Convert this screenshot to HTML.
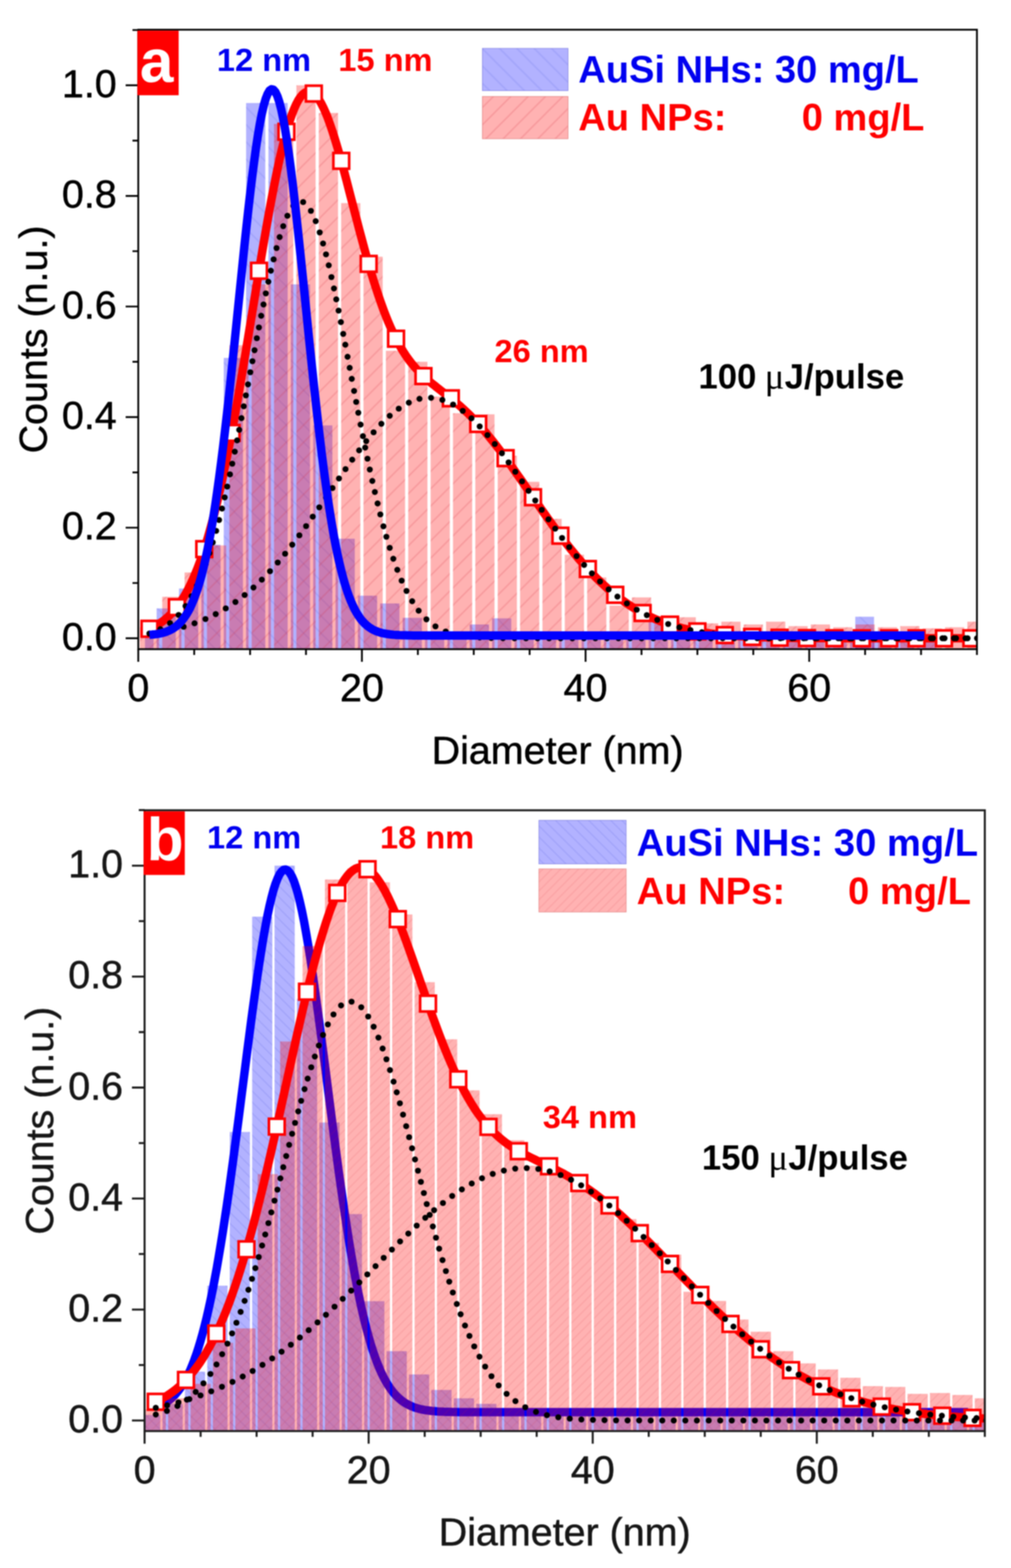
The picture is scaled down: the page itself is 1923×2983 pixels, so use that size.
<!DOCTYPE html>
<html lang="en"><head><meta charset="utf-8"><title>Size distributions</title>
<style>html,body{margin:0;padding:0;background:#fff}html::-webkit-scrollbar{display:none}svg{display:block;filter:blur(1.2px)}.rb rect{fill:#ff0000;fill-opacity:.3}.bb rect{fill:#0000ff;fill-opacity:.3}.bl{fill:none;stroke:#0000ff;stroke-width:16;stroke-linejoin:round;stroke-linecap:butt}.rl{fill:none;stroke:#ff0000;stroke-width:16;stroke-linejoin:round;stroke-linecap:butt}.mk{fill:#fff;stroke:#ff0000;stroke-width:5}</style></head><body>
<svg width="1923" height="2983" viewBox="0 0 1923 2983">
<defs><pattern id="hra" patternUnits="userSpaceOnUse" width="33" height="33"><path d="M-8.25 8.25L8.25 -8.25M0 33L33 0M24.75 41.25L41.25 24.75" stroke="#d02030" stroke-opacity="0.16" stroke-width="3" fill="none"/></pattern><pattern id="hba" patternUnits="userSpaceOnUse" width="33" height="33"><path d="M-8.25 24.75L8.25 41.25M0 0L33 33M24.75 -8.25L41.25 8.25" stroke="#2030d0" stroke-opacity="0.1" stroke-width="3" fill="none"/></pattern><pattern id="hrb" patternUnits="userSpaceOnUse" width="17" height="17"><path d="M-4.25 4.25L4.25 -4.25M0 17L17 0M12.75 21.25L21.25 12.75" stroke="#d02030" stroke-opacity="0.09" stroke-width="2.5" fill="none"/></pattern><pattern id="hbb" patternUnits="userSpaceOnUse" width="21" height="21"><path d="M-5.25 15.75L5.25 26.25M0 0L21 21M15.75 -5.25L26.25 5.25" stroke="#2030d0" stroke-opacity="0.1" stroke-width="2.5" fill="none"/></pattern></defs>
<rect width="1923" height="2983" fill="#fff"/>
<g id="panel-a">
<clipPath id="clipa"><rect x="263.0" y="56.5" width="1595.2" height="1178.5"/></clipPath>
<g clip-path="url(#clipa)">
<g class="bb">
<rect x="275.8" y="1209.0" width="16.2" height="26.0"/>
<rect x="297.9" y="1157.5" width="36.5" height="77.5"/>
<rect x="340.5" y="1119.6" width="36.5" height="115.4"/>
<rect x="383.0" y="1036.5" width="36.5" height="198.5"/>
<rect x="425.6" y="680.9" width="36.5" height="554.1"/>
<rect x="468.1" y="196.0" width="36.5" height="1039.0"/>
<rect x="510.6" y="196.0" width="36.5" height="1039.0"/>
<rect x="553.2" y="541.0" width="36.5" height="694.0"/>
<rect x="595.7" y="809.3" width="36.5" height="425.7"/>
<rect x="638.3" y="1024.9" width="36.5" height="210.1"/>
<rect x="680.8" y="1133.3" width="36.5" height="101.7"/>
<rect x="723.3" y="1148.0" width="36.5" height="87.0"/>
<rect x="765.9" y="1175.4" width="36.5" height="59.6"/>
<rect x="808.4" y="1203.8" width="36.5" height="31.2"/>
<rect x="851.0" y="1203.8" width="36.5" height="31.2"/>
<rect x="893.5" y="1188.0" width="36.5" height="47.0"/>
<rect x="936.0" y="1176.4" width="36.5" height="58.6"/>
<rect x="978.6" y="1205.9" width="36.5" height="29.1"/>
<rect x="1021.1" y="1205.9" width="36.5" height="29.1"/>
<rect x="1063.7" y="1205.9" width="36.5" height="29.1"/>
<rect x="1106.2" y="1205.9" width="36.5" height="29.1"/>
<rect x="1148.7" y="1205.9" width="36.5" height="29.1"/>
<rect x="1191.3" y="1205.9" width="36.5" height="29.1"/>
<rect x="1233.8" y="1182.7" width="36.5" height="52.3"/>
<rect x="1276.4" y="1205.9" width="36.5" height="29.1"/>
<rect x="1318.9" y="1205.9" width="36.5" height="29.1"/>
<rect x="1361.4" y="1205.9" width="36.5" height="29.1"/>
<rect x="1404.0" y="1205.9" width="36.5" height="29.1"/>
<rect x="1446.5" y="1205.9" width="36.5" height="29.1"/>
<rect x="1489.1" y="1203.8" width="36.5" height="31.2"/>
<rect x="1531.6" y="1203.8" width="36.5" height="31.2"/>
<rect x="1574.1" y="1203.8" width="36.5" height="31.2"/>
<rect x="1616.7" y="1205.9" width="36.5" height="29.1"/>
<rect x="1659.2" y="1203.8" width="36.5" height="31.2"/>
<rect x="1701.8" y="1203.8" width="36.5" height="31.2"/>
<rect x="1744.3" y="1209.0" width="36.5" height="26.0"/>
<rect x="1626.8" y="1173.3" width="35.7" height="61.7"/>
</g>
<g fill="url(#hba)">
<rect x="275.8" y="1209.0" width="16.2" height="26.0"/>
<rect x="297.9" y="1157.5" width="36.5" height="77.5"/>
<rect x="340.5" y="1119.6" width="36.5" height="115.4"/>
<rect x="383.0" y="1036.5" width="36.5" height="198.5"/>
<rect x="425.6" y="680.9" width="36.5" height="554.1"/>
<rect x="468.1" y="196.0" width="36.5" height="1039.0"/>
<rect x="510.6" y="196.0" width="36.5" height="1039.0"/>
<rect x="553.2" y="541.0" width="36.5" height="694.0"/>
<rect x="595.7" y="809.3" width="36.5" height="425.7"/>
<rect x="638.3" y="1024.9" width="36.5" height="210.1"/>
<rect x="680.8" y="1133.3" width="36.5" height="101.7"/>
<rect x="723.3" y="1148.0" width="36.5" height="87.0"/>
<rect x="765.9" y="1175.4" width="36.5" height="59.6"/>
<rect x="808.4" y="1203.8" width="36.5" height="31.2"/>
<rect x="851.0" y="1203.8" width="36.5" height="31.2"/>
<rect x="893.5" y="1188.0" width="36.5" height="47.0"/>
<rect x="936.0" y="1176.4" width="36.5" height="58.6"/>
<rect x="978.6" y="1205.9" width="36.5" height="29.1"/>
<rect x="1021.1" y="1205.9" width="36.5" height="29.1"/>
<rect x="1063.7" y="1205.9" width="36.5" height="29.1"/>
<rect x="1106.2" y="1205.9" width="36.5" height="29.1"/>
<rect x="1148.7" y="1205.9" width="36.5" height="29.1"/>
<rect x="1191.3" y="1205.9" width="36.5" height="29.1"/>
<rect x="1233.8" y="1182.7" width="36.5" height="52.3"/>
<rect x="1276.4" y="1205.9" width="36.5" height="29.1"/>
<rect x="1318.9" y="1205.9" width="36.5" height="29.1"/>
<rect x="1361.4" y="1205.9" width="36.5" height="29.1"/>
<rect x="1404.0" y="1205.9" width="36.5" height="29.1"/>
<rect x="1446.5" y="1205.9" width="36.5" height="29.1"/>
<rect x="1489.1" y="1203.8" width="36.5" height="31.2"/>
<rect x="1531.6" y="1203.8" width="36.5" height="31.2"/>
<rect x="1574.1" y="1203.8" width="36.5" height="31.2"/>
<rect x="1616.7" y="1205.9" width="36.5" height="29.1"/>
<rect x="1659.2" y="1203.8" width="36.5" height="31.2"/>
<rect x="1701.8" y="1203.8" width="36.5" height="31.2"/>
<rect x="1744.3" y="1209.0" width="36.5" height="26.0"/>
<rect x="1626.8" y="1173.3" width="35.7" height="61.7"/>
</g>
<g class="rb">
<rect x="266.0" y="1193.3" width="36.5" height="41.7"/>
<rect x="308.6" y="1135.4" width="36.5" height="99.6"/>
<rect x="351.1" y="1089.1" width="36.5" height="145.9"/>
<rect x="393.7" y="1037.6" width="36.5" height="197.4"/>
<rect x="436.2" y="656.7" width="36.5" height="578.3"/>
<rect x="478.7" y="541.0" width="36.5" height="694.0"/>
<rect x="521.3" y="235.9" width="36.5" height="999.1"/>
<rect x="563.8" y="162.3" width="36.5" height="1072.7"/>
<rect x="606.4" y="214.9" width="36.5" height="1020.1"/>
<rect x="648.9" y="386.4" width="36.5" height="848.6"/>
<rect x="691.4" y="488.4" width="36.5" height="746.6"/>
<rect x="734.0" y="667.3" width="36.5" height="567.7"/>
<rect x="776.5" y="688.3" width="36.5" height="546.7"/>
<rect x="819.1" y="754.6" width="36.5" height="480.4"/>
<rect x="861.6" y="786.1" width="36.5" height="448.9"/>
<rect x="904.1" y="788.2" width="36.5" height="446.8"/>
<rect x="946.7" y="867.1" width="36.5" height="367.9"/>
<rect x="989.2" y="916.6" width="36.5" height="318.4"/>
<rect x="1031.8" y="987.1" width="36.5" height="247.9"/>
<rect x="1074.3" y="1055.4" width="36.5" height="179.6"/>
<rect x="1116.8" y="1098.6" width="36.5" height="136.4"/>
<rect x="1159.4" y="1152.2" width="36.5" height="82.8"/>
<rect x="1201.9" y="1136.5" width="36.5" height="98.5"/>
<rect x="1244.5" y="1172.2" width="36.5" height="62.8"/>
<rect x="1287.0" y="1174.3" width="36.5" height="60.7"/>
<rect x="1329.5" y="1185.9" width="36.5" height="49.1"/>
<rect x="1372.1" y="1182.7" width="36.5" height="52.3"/>
<rect x="1414.6" y="1188.0" width="36.5" height="47.0"/>
<rect x="1457.2" y="1182.7" width="36.5" height="52.3"/>
<rect x="1499.7" y="1191.2" width="36.5" height="43.8"/>
<rect x="1542.2" y="1188.0" width="36.5" height="47.0"/>
<rect x="1584.8" y="1193.3" width="36.5" height="41.7"/>
<rect x="1627.3" y="1188.0" width="36.5" height="47.0"/>
<rect x="1669.9" y="1193.3" width="36.5" height="41.7"/>
<rect x="1712.4" y="1191.2" width="36.5" height="43.8"/>
<rect x="1754.9" y="1195.4" width="36.5" height="39.6"/>
<rect x="1797.5" y="1193.3" width="36.5" height="41.7"/>
<rect x="1840.0" y="1182.7" width="18.2" height="52.3"/>
</g>
<g fill="url(#hra)">
<rect x="266.0" y="1193.3" width="36.5" height="41.7"/>
<rect x="308.6" y="1135.4" width="36.5" height="99.6"/>
<rect x="351.1" y="1089.1" width="36.5" height="145.9"/>
<rect x="393.7" y="1037.6" width="36.5" height="197.4"/>
<rect x="436.2" y="656.7" width="36.5" height="578.3"/>
<rect x="478.7" y="541.0" width="36.5" height="694.0"/>
<rect x="521.3" y="235.9" width="36.5" height="999.1"/>
<rect x="563.8" y="162.3" width="36.5" height="1072.7"/>
<rect x="606.4" y="214.9" width="36.5" height="1020.1"/>
<rect x="648.9" y="386.4" width="36.5" height="848.6"/>
<rect x="691.4" y="488.4" width="36.5" height="746.6"/>
<rect x="734.0" y="667.3" width="36.5" height="567.7"/>
<rect x="776.5" y="688.3" width="36.5" height="546.7"/>
<rect x="819.1" y="754.6" width="36.5" height="480.4"/>
<rect x="861.6" y="786.1" width="36.5" height="448.9"/>
<rect x="904.1" y="788.2" width="36.5" height="446.8"/>
<rect x="946.7" y="867.1" width="36.5" height="367.9"/>
<rect x="989.2" y="916.6" width="36.5" height="318.4"/>
<rect x="1031.8" y="987.1" width="36.5" height="247.9"/>
<rect x="1074.3" y="1055.4" width="36.5" height="179.6"/>
<rect x="1116.8" y="1098.6" width="36.5" height="136.4"/>
<rect x="1159.4" y="1152.2" width="36.5" height="82.8"/>
<rect x="1201.9" y="1136.5" width="36.5" height="98.5"/>
<rect x="1244.5" y="1172.2" width="36.5" height="62.8"/>
<rect x="1287.0" y="1174.3" width="36.5" height="60.7"/>
<rect x="1329.5" y="1185.9" width="36.5" height="49.1"/>
<rect x="1372.1" y="1182.7" width="36.5" height="52.3"/>
<rect x="1414.6" y="1188.0" width="36.5" height="47.0"/>
<rect x="1457.2" y="1182.7" width="36.5" height="52.3"/>
<rect x="1499.7" y="1191.2" width="36.5" height="43.8"/>
<rect x="1542.2" y="1188.0" width="36.5" height="47.0"/>
<rect x="1584.8" y="1193.3" width="36.5" height="41.7"/>
<rect x="1627.3" y="1188.0" width="36.5" height="47.0"/>
<rect x="1669.9" y="1193.3" width="36.5" height="41.7"/>
<rect x="1712.4" y="1191.2" width="36.5" height="43.8"/>
<rect x="1754.9" y="1195.4" width="36.5" height="39.6"/>
<rect x="1797.5" y="1193.3" width="36.5" height="41.7"/>
<rect x="1840.0" y="1182.7" width="18.2" height="52.3"/>
</g>
<polyline class="rl" points="284.3,1196.2 288.3,1194.5 292.2,1192.5 296.2,1190.4 300.2,1188.1 304.2,1185.6 308.2,1182.8 312.2,1179.8 316.2,1176.5 320.2,1173.0 324.2,1169.1 328.1,1164.9 332.1,1160.3 336.1,1155.4 340.1,1150.1 344.1,1144.3 348.1,1138.1 352.1,1131.4 356.1,1124.3 360.0,1116.6 364.0,1108.4 368.0,1099.6 372.0,1090.2 376.0,1080.2 380.0,1069.6 384.0,1058.3 388.0,1046.4 391.9,1033.8 395.9,1020.5 399.9,1006.5 403.9,991.8 407.9,976.3 411.9,960.2 415.9,943.3 419.9,925.8 423.9,907.5 427.8,888.6 431.8,869.0 435.8,848.7 439.8,827.9 443.8,806.4 447.8,784.4 451.8,761.9 455.8,739.0 459.7,715.6 463.7,691.9 467.7,667.9 471.7,643.7 475.7,619.3 479.7,594.8 483.7,570.3 487.7,545.9 491.7,521.6 495.6,497.5 499.6,473.7 503.6,450.4 507.6,427.4 511.6,405.1 515.6,383.4 519.6,362.4 523.6,342.1 527.5,322.8 531.5,304.4 535.5,287.0 539.5,270.7 543.5,255.5 547.5,241.5 551.5,228.7 555.5,217.2 559.5,207.0 563.4,198.2 567.4,190.7 571.4,184.6 575.4,179.9 579.4,176.6 583.4,174.6 587.4,174.0 591.4,174.8 595.3,176.8 599.3,180.2 603.3,184.7 607.3,190.4 611.3,197.3 615.3,205.3 619.3,214.2 623.3,224.1 627.2,234.9 631.2,246.5 635.2,258.8 639.2,271.8 643.2,285.3 647.2,299.3 651.2,313.8 655.2,328.6 659.2,343.7 663.1,359.0 667.1,374.4 671.1,389.8 675.1,405.3 679.1,420.6 683.1,435.9 687.1,450.9 691.1,465.8 695.0,480.3 699.0,494.6 703.0,508.4 707.0,521.9 711.0,535.0 715.0,547.6 719.0,559.8 723.0,571.5 727.0,582.7 730.9,593.4 734.9,603.6 738.9,613.4 742.9,622.6 746.9,631.4 750.9,639.7 754.9,647.5 758.9,654.9 762.8,661.9 766.8,668.5 770.8,674.7 774.8,680.5 778.8,686.0 782.8,691.1 786.8,696.0 790.8,700.6 794.8,704.9 798.7,709.1 802.7,713.0 806.7,716.7 810.7,720.3 814.7,723.8 818.7,727.2 822.7,730.4 826.7,733.6 830.6,736.8 834.6,739.9 838.6,743.0 842.6,746.1 846.6,749.2 850.6,752.3 854.6,755.4 858.6,758.6 862.5,761.9 866.5,765.2 870.5,768.6 874.5,772.0 878.5,775.6 882.5,779.2 886.5,783.0 890.5,786.8 894.5,790.7 898.4,794.8 902.4,798.9 906.4,803.1 910.4,807.5 914.4,811.9 918.4,816.5 922.4,821.1 926.4,825.9 930.3,830.7 934.3,835.6 938.3,840.6 942.3,845.7 946.3,850.9 950.3,856.1 954.3,861.5 958.3,866.8 962.3,872.3 966.2,877.8 970.2,883.3 974.2,888.9 978.2,894.6 982.2,900.3 986.2,906.0 990.2,911.7 994.2,917.4 998.1,923.2 1002.1,929.0 1006.1,934.8 1010.1,940.6 1014.1,946.4 1018.1,952.1 1022.1,957.9 1026.1,963.6 1030.0,969.4 1034.0,975.0 1038.0,980.7 1042.0,986.3 1046.0,991.9 1050.0,997.5 1054.0,1003.0 1058.0,1008.4 1062.0,1013.8 1065.9,1019.1 1069.9,1024.4 1073.9,1029.6 1077.9,1034.8 1081.9,1039.9 1085.9,1044.9 1089.9,1049.8 1093.9,1054.7 1097.8,1059.5 1101.8,1064.2 1105.8,1068.8 1109.8,1073.4 1113.8,1077.8 1117.8,1082.2 1121.8,1086.5 1125.8,1090.7 1129.8,1094.8 1133.7,1098.9 1137.7,1102.8 1141.7,1106.7 1145.7,1110.4 1149.7,1114.1 1153.7,1117.7 1157.7,1121.2 1161.7,1124.6 1165.6,1128.0 1169.6,1131.2 1173.6,1134.4 1177.6,1137.4 1181.6,1140.4 1185.6,1143.3 1189.6,1146.1 1193.6,1148.9 1197.6,1151.5 1201.5,1154.1 1205.5,1156.6 1209.5,1159.0 1213.5,1161.3 1217.5,1163.6 1221.5,1165.7 1225.5,1167.8 1229.5,1169.9 1233.4,1171.8 1237.4,1173.7 1241.4,1175.6 1245.4,1177.3 1249.4,1179.0 1253.4,1180.6 1257.4,1182.2 1261.4,1183.7 1265.3,1185.2 1269.3,1186.6 1273.3,1187.9 1277.3,1189.2 1281.3,1190.4 1285.3,1191.6 1289.3,1192.8 1293.3,1193.8 1297.3,1194.9 1301.2,1195.9 1305.2,1196.8 1309.2,1197.7 1313.2,1198.6 1317.2,1199.4 1321.2,1200.2 1325.2,1201.0 1329.2,1201.7 1333.1,1202.4 1337.1,1203.0 1341.1,1203.7 1345.1,1204.3 1349.1,1204.8 1353.1,1205.4 1357.1,1205.9 1361.1,1206.4 1365.1,1206.8 1369.0,1207.2 1373.0,1207.7 1377.0,1208.1 1381.0,1208.4 1385.0,1208.8 1389.0,1209.1 1393.0,1209.4 1397.0,1209.7 1400.9,1210.0 1404.9,1210.3 1408.9,1210.5 1412.9,1210.8 1416.9,1211.0 1420.9,1211.2 1424.9,1211.4 1428.9,1211.6 1432.8,1211.8 1436.8,1211.9 1440.8,1212.1 1444.8,1212.2 1448.8,1212.4 1452.8,1212.5 1456.8,1212.6 1460.8,1212.7 1464.8,1212.8 1468.7,1212.9 1472.7,1213.0 1476.7,1213.1 1480.7,1213.2 1484.7,1213.3 1488.7,1213.3 1492.7,1213.4 1496.7,1213.5 1500.6,1213.5 1504.6,1213.6 1508.6,1213.6 1512.6,1213.7 1516.6,1213.7 1520.6,1213.8 1524.6,1213.8 1528.6,1213.9 1532.6,1213.9 1536.5,1213.9 1540.5,1213.9 1544.5,1214.0 1548.5,1214.0 1552.5,1214.0 1556.5,1214.0 1560.5,1214.1 1564.5,1214.1 1568.4,1214.1 1572.4,1214.1 1576.4,1214.1 1580.4,1214.1 1584.4,1214.2 1588.4,1214.2 1592.4,1214.2 1596.4,1214.2 1600.4,1214.2 1604.3,1214.2 1608.3,1214.2 1612.3,1214.2 1616.3,1214.2 1620.3,1214.2 1624.3,1214.2 1628.3,1214.2 1632.3,1214.2 1636.2,1214.3 1640.2,1214.3 1644.2,1214.3 1648.2,1214.3 1652.2,1214.3 1656.2,1214.3 1660.2,1214.3 1664.2,1214.3 1668.1,1214.3 1672.1,1214.3 1676.1,1214.3 1680.1,1214.3 1684.1,1214.3 1688.1,1214.3 1692.1,1214.3 1696.1,1214.3 1700.1,1214.3 1704.0,1214.3 1708.0,1214.3 1712.0,1214.3 1716.0,1214.3 1720.0,1214.3 1724.0,1214.3 1728.0,1214.3 1732.0,1214.3 1735.9,1214.3 1739.9,1214.3 1743.9,1214.3 1747.9,1214.3 1751.9,1214.3 1755.9,1214.3 1759.9,1214.3 1763.9,1214.3 1767.9,1214.3 1771.8,1214.3 1775.8,1214.3 1779.8,1214.3 1783.8,1214.3 1787.8,1214.3 1791.8,1214.3 1795.8,1214.3 1799.8,1214.3 1803.7,1214.3 1807.7,1214.3 1811.7,1214.3 1815.7,1214.3 1819.7,1214.3 1823.7,1214.3 1827.7,1214.3 1831.7,1214.3 1835.7,1214.3 1839.6,1214.3 1843.6,1214.3 1847.6,1214.3 1851.6,1214.3 1855.6,1214.3 1859.6,1214.3 1863.6,1214.3 1867.6,1214.3 1871.5,1214.3 1875.5,1214.3 1879.5,1214.3"/>
<rect class="mk" x="269.3" y="1181.2" width="30" height="30"/>
<rect class="mk" x="321.4" y="1140.1" width="30" height="30"/>
<rect class="mk" x="373.5" y="1029.7" width="30" height="30"/>
<rect class="mk" x="425.6" y="808.6" width="30" height="30"/>
<rect class="mk" x="477.7" y="500.1" width="30" height="30"/>
<rect class="mk" x="529.8" y="235.7" width="30" height="30"/>
<rect class="mk" x="581.9" y="163.0" width="30" height="30"/>
<rect class="mk" x="634.1" y="291.0" width="30" height="30"/>
<rect class="mk" x="686.2" y="487.0" width="30" height="30"/>
<rect class="mk" x="738.3" y="629.4" width="30" height="30"/>
<rect class="mk" x="790.4" y="700.5" width="30" height="30"/>
<rect class="mk" x="842.5" y="742.8" width="30" height="30"/>
<rect class="mk" x="894.6" y="791.6" width="30" height="30"/>
<rect class="mk" x="946.7" y="856.6" width="30" height="30"/>
<rect class="mk" x="998.8" y="931.0" width="30" height="30"/>
<rect class="mk" x="1050.9" y="1004.1" width="30" height="30"/>
<rect class="mk" x="1103.1" y="1067.5" width="30" height="30"/>
<rect class="mk" x="1155.2" y="1116.6" width="30" height="30"/>
<rect class="mk" x="1207.3" y="1151.2" width="30" height="30"/>
<rect class="mk" x="1259.4" y="1173.3" width="30" height="30"/>
<rect class="mk" x="1311.5" y="1186.2" width="30" height="30"/>
<rect class="mk" x="1363.6" y="1193.2" width="30" height="30"/>
<rect class="mk" x="1415.7" y="1196.7" width="30" height="30"/>
<rect class="mk" x="1467.8" y="1198.2" width="30" height="30"/>
<rect class="mk" x="1519.9" y="1198.9" width="30" height="30"/>
<rect class="mk" x="1572.1" y="1199.2" width="30" height="30"/>
<rect class="mk" x="1624.2" y="1199.3" width="30" height="30"/>
<rect class="mk" x="1676.3" y="1199.3" width="30" height="30"/>
<rect class="mk" x="1728.4" y="1199.3" width="30" height="30"/>
<rect class="mk" x="1780.5" y="1199.3" width="30" height="30"/>
<rect class="mk" x="1832.6" y="1199.3" width="30" height="30"/>
<g fill="#000"><circle cx="284.3" cy="1205.1" r="5.7"/><circle cx="305.0" cy="1197.0" r="5.7"/><circle cx="323.4" cy="1185.4" r="5.7"/><circle cx="339.7" cy="1169.9" r="5.7"/><circle cx="352.9" cy="1153.0" r="5.7"/><circle cx="364.4" cy="1134.1" r="5.7"/><circle cx="374.4" cy="1114.4" r="5.7"/><circle cx="383.2" cy="1094.1" r="5.7"/><circle cx="391.2" cy="1073.2" r="5.7"/><circle cx="398.3" cy="1052.3" r="5.7"/><circle cx="404.7" cy="1031.9" r="5.7"/><circle cx="411.1" cy="1009.9" r="5.7"/><circle cx="416.7" cy="989.3" r="5.7"/><circle cx="422.3" cy="967.5" r="5.7"/><circle cx="427.4" cy="946.2" r="5.7"/><circle cx="432.2" cy="925.6" r="5.7"/><circle cx="437.4" cy="902.4" r="5.7"/><circle cx="441.8" cy="882.1" r="5.7"/><circle cx="446.6" cy="859.2" r="5.7"/><circle cx="451.0" cy="837.8" r="5.7"/><circle cx="455.0" cy="817.8" r="5.7"/><circle cx="459.3" cy="795.5" r="5.7"/><circle cx="463.7" cy="772.9" r="5.7"/><circle cx="467.7" cy="752.1" r="5.7"/><circle cx="471.7" cy="731.2" r="5.7"/><circle cx="476.1" cy="708.1" r="5.7"/><circle cx="480.1" cy="687.1" r="5.7"/><circle cx="484.1" cy="666.2" r="5.7"/><circle cx="488.5" cy="643.4" r="5.7"/><circle cx="492.5" cy="622.9" r="5.7"/><circle cx="496.8" cy="600.8" r="5.7"/><circle cx="501.2" cy="579.2" r="5.7"/><circle cx="505.6" cy="558.1" r="5.7"/><circle cx="510.4" cy="536.0" r="5.7"/><circle cx="515.2" cy="515.0" r="5.7"/><circle cx="520.4" cy="493.4" r="5.7"/><circle cx="526.0" cy="471.9" r="5.7"/><circle cx="531.9" cy="451.0" r="5.7"/><circle cx="538.7" cy="430.3" r="5.7"/><circle cx="546.7" cy="410.5" r="5.7"/><circle cx="557.9" cy="391.5" r="5.7"/><circle cx="576.6" cy="384.4" r="5.7"/><circle cx="591.4" cy="401.1" r="5.7"/><circle cx="600.5" cy="420.8" r="5.7"/><circle cx="608.1" cy="442.1" r="5.7"/><circle cx="614.5" cy="463.2" r="5.7"/><circle cx="620.1" cy="483.9" r="5.7"/><circle cx="625.3" cy="504.8" r="5.7"/><circle cx="630.4" cy="527.1" r="5.7"/><circle cx="635.2" cy="548.8" r="5.7"/><circle cx="639.6" cy="569.5" r="5.7"/><circle cx="644.0" cy="590.9" r="5.7"/><circle cx="648.4" cy="612.8" r="5.7"/><circle cx="652.8" cy="635.2" r="5.7"/><circle cx="656.8" cy="655.8" r="5.7"/><circle cx="661.1" cy="678.8" r="5.7"/><circle cx="665.1" cy="699.7" r="5.7"/><circle cx="669.1" cy="720.7" r="5.7"/><circle cx="673.5" cy="743.8" r="5.7"/><circle cx="677.5" cy="764.6" r="5.7"/><circle cx="681.5" cy="785.3" r="5.7"/><circle cx="685.9" cy="807.7" r="5.7"/><circle cx="690.3" cy="829.8" r="5.7"/><circle cx="694.6" cy="851.5" r="5.7"/><circle cx="699.0" cy="872.6" r="5.7"/><circle cx="703.4" cy="893.2" r="5.7"/><circle cx="708.2" cy="915.0" r="5.7"/><circle cx="713.0" cy="936.0" r="5.7"/><circle cx="718.2" cy="957.8" r="5.7"/><circle cx="723.4" cy="978.6" r="5.7"/><circle cx="729.3" cy="1001.3" r="5.7"/><circle cx="734.9" cy="1021.1" r="5.7"/><circle cx="741.3" cy="1042.3" r="5.7"/><circle cx="748.1" cy="1063.0" r="5.7"/><circle cx="755.7" cy="1084.0" r="5.7"/><circle cx="764.0" cy="1104.6" r="5.7"/><circle cx="773.2" cy="1124.3" r="5.7"/><circle cx="784.0" cy="1143.7" r="5.7"/><circle cx="796.3" cy="1161.8" r="5.7"/><circle cx="811.1" cy="1178.2" r="5.7"/><circle cx="828.3" cy="1191.6" r="5.7"/><circle cx="847.8" cy="1201.4" r="5.7"/><circle cx="868.9" cy="1207.7" r="5.7"/><circle cx="890.5" cy="1211.1" r="5.7"/><circle cx="912.4" cy="1212.8" r="5.7"/><circle cx="934.3" cy="1213.7" r="5.7"/><circle cx="956.7" cy="1214.0" r="5.7"/><circle cx="978.6" cy="1214.2" r="5.7"/><circle cx="1000.5" cy="1214.3" r="5.7"/><circle cx="1022.5" cy="1214.3" r="5.7"/><circle cx="1044.4" cy="1214.3" r="5.7"/><circle cx="1066.3" cy="1214.3" r="5.7"/><circle cx="1088.7" cy="1214.3" r="5.7"/><circle cx="1110.6" cy="1214.3" r="5.7"/><circle cx="1132.5" cy="1214.3" r="5.7"/><circle cx="1154.5" cy="1214.3" r="5.7"/><circle cx="1176.4" cy="1214.3" r="5.7"/><circle cx="1198.3" cy="1214.3" r="5.7"/><circle cx="1220.3" cy="1214.3" r="5.7"/><circle cx="1242.6" cy="1214.3" r="5.7"/><circle cx="1264.6" cy="1214.3" r="5.7"/><circle cx="1286.5" cy="1214.3" r="5.7"/><circle cx="1308.4" cy="1214.3" r="5.7"/><circle cx="1330.4" cy="1214.3" r="5.7"/><circle cx="1352.3" cy="1214.3" r="5.7"/><circle cx="1374.6" cy="1214.3" r="5.7"/><circle cx="1396.6" cy="1214.3" r="5.7"/><circle cx="1418.5" cy="1214.3" r="5.7"/><circle cx="1440.4" cy="1214.3" r="5.7"/><circle cx="1462.4" cy="1214.3" r="5.7"/><circle cx="1484.3" cy="1214.3" r="5.7"/><circle cx="1506.6" cy="1214.3" r="5.7"/><circle cx="1528.6" cy="1214.3" r="5.7"/><circle cx="1550.5" cy="1214.3" r="5.7"/><circle cx="1572.4" cy="1214.3" r="5.7"/><circle cx="1594.4" cy="1214.3" r="5.7"/><circle cx="1616.3" cy="1214.3" r="5.7"/><circle cx="1638.6" cy="1214.3" r="5.7"/><circle cx="1660.6" cy="1214.3" r="5.7"/><circle cx="1682.5" cy="1214.3" r="5.7"/><circle cx="1704.4" cy="1214.3" r="5.7"/><circle cx="1726.4" cy="1214.3" r="5.7"/><circle cx="1748.3" cy="1214.3" r="5.7"/><circle cx="1770.6" cy="1214.3" r="5.7"/><circle cx="1792.6" cy="1214.3" r="5.7"/><circle cx="1814.5" cy="1214.3" r="5.7"/><circle cx="1836.4" cy="1214.3" r="5.7"/><circle cx="1858.4" cy="1214.3" r="5.7"/><circle cx="284.3" cy="1205.4" r="5.7"/><circle cx="306.2" cy="1202.1" r="5.7"/><circle cx="327.7" cy="1197.9" r="5.7"/><circle cx="349.3" cy="1192.4" r="5.7"/><circle cx="370.0" cy="1185.8" r="5.7"/><circle cx="390.8" cy="1177.6" r="5.7"/><circle cx="410.3" cy="1168.3" r="5.7"/><circle cx="429.4" cy="1157.4" r="5.7"/><circle cx="447.8" cy="1145.3" r="5.7"/><circle cx="465.3" cy="1132.0" r="5.7"/><circle cx="482.1" cy="1117.7" r="5.7"/><circle cx="498.0" cy="1102.7" r="5.7"/><circle cx="513.6" cy="1086.6" r="5.7"/><circle cx="528.3" cy="1070.1" r="5.7"/><circle cx="542.3" cy="1053.4" r="5.7"/><circle cx="555.9" cy="1036.3" r="5.7"/><circle cx="569.4" cy="1018.4" r="5.7"/><circle cx="582.2" cy="1000.9" r="5.7"/><circle cx="594.9" cy="982.9" r="5.7"/><circle cx="607.3" cy="965.1" r="5.7"/><circle cx="620.1" cy="946.5" r="5.7"/><circle cx="632.4" cy="928.4" r="5.7"/><circle cx="644.8" cy="910.3" r="5.7"/><circle cx="657.2" cy="892.5" r="5.7"/><circle cx="669.9" cy="874.5" r="5.7"/><circle cx="683.1" cy="856.7" r="5.7"/><circle cx="696.6" cy="839.2" r="5.7"/><circle cx="710.6" cy="822.4" r="5.7"/><circle cx="725.4" cy="806.3" r="5.7"/><circle cx="741.3" cy="791.0" r="5.7"/><circle cx="758.5" cy="777.4" r="5.7"/><circle cx="777.6" cy="766.0" r="5.7"/><circle cx="797.9" cy="758.8" r="5.7"/><circle cx="819.9" cy="756.8" r="5.7"/><circle cx="841.4" cy="760.7" r="5.7"/><circle cx="861.8" cy="769.6" r="5.7"/><circle cx="880.1" cy="781.6" r="5.7"/><circle cx="896.8" cy="795.7" r="5.7"/><circle cx="912.4" cy="811.2" r="5.7"/><circle cx="927.2" cy="827.7" r="5.7"/><circle cx="941.1" cy="844.7" r="5.7"/><circle cx="954.7" cy="862.3" r="5.7"/><circle cx="967.4" cy="879.6" r="5.7"/><circle cx="980.2" cy="897.5" r="5.7"/><circle cx="993.0" cy="915.8" r="5.7"/><circle cx="1005.3" cy="933.7" r="5.7"/><circle cx="1018.1" cy="952.1" r="5.7"/><circle cx="1030.4" cy="969.9" r="5.7"/><circle cx="1043.2" cy="988.0" r="5.7"/><circle cx="1056.0" cy="1005.7" r="5.7"/><circle cx="1069.1" cy="1023.4" r="5.7"/><circle cx="1082.7" cy="1040.9" r="5.7"/><circle cx="1096.7" cy="1058.0" r="5.7"/><circle cx="1111.0" cy="1074.7" r="5.7"/><circle cx="1125.8" cy="1090.7" r="5.7"/><circle cx="1141.3" cy="1106.3" r="5.7"/><circle cx="1157.7" cy="1121.2" r="5.7"/><circle cx="1174.4" cy="1135.0" r="5.7"/><circle cx="1192.4" cy="1148.0" r="5.7"/><circle cx="1211.1" cy="1159.9" r="5.7"/><circle cx="1230.3" cy="1170.3" r="5.7"/><circle cx="1250.2" cy="1179.3" r="5.7"/><circle cx="1270.9" cy="1187.1" r="5.7"/><circle cx="1292.1" cy="1193.5" r="5.7"/><circle cx="1313.2" cy="1198.6" r="5.7"/><circle cx="1335.1" cy="1202.7" r="5.7"/><circle cx="1356.7" cy="1205.8" r="5.7"/><circle cx="1378.6" cy="1208.2" r="5.7"/><circle cx="1400.5" cy="1210.0" r="5.7"/><circle cx="1422.5" cy="1211.3" r="5.7"/><circle cx="1444.4" cy="1212.2" r="5.7"/><circle cx="1466.4" cy="1212.9" r="5.7"/><circle cx="1488.3" cy="1213.3" r="5.7"/><circle cx="1510.6" cy="1213.7" r="5.7"/><circle cx="1532.6" cy="1213.9" r="5.7"/><circle cx="1554.5" cy="1214.0" r="5.7"/><circle cx="1576.4" cy="1214.1" r="5.7"/><circle cx="1598.4" cy="1214.2" r="5.7"/><circle cx="1620.3" cy="1214.2" r="5.7"/><circle cx="1642.6" cy="1214.3" r="5.7"/><circle cx="1664.6" cy="1214.3" r="5.7"/><circle cx="1686.5" cy="1214.3" r="5.7"/><circle cx="1708.4" cy="1214.3" r="5.7"/><circle cx="1730.4" cy="1214.3" r="5.7"/><circle cx="1752.3" cy="1214.3" r="5.7"/><circle cx="1774.6" cy="1214.3" r="5.7"/><circle cx="1796.6" cy="1214.3" r="5.7"/><circle cx="1818.5" cy="1214.3" r="5.7"/><circle cx="1840.4" cy="1214.3" r="5.7"/><circle cx="1862.4" cy="1214.3" r="5.7"/></g>
<polyline class="bl" points="284.3,1207.7 288.0,1207.4 291.6,1207.0 295.3,1206.6 299.0,1206.1 302.7,1205.4 306.4,1204.7 310.1,1203.7 313.8,1202.7 317.4,1201.4 321.1,1199.9 324.8,1198.1 328.5,1196.0 332.2,1193.6 335.9,1190.9 339.5,1187.7 343.2,1184.0 346.9,1179.7 350.6,1174.9 354.3,1169.4 358.0,1163.2 361.7,1156.2 365.3,1148.2 369.0,1139.4 372.7,1129.5 376.4,1118.5 380.1,1106.4 383.8,1093.0 387.5,1078.3 391.1,1062.3 394.8,1044.8 398.5,1025.8 402.2,1005.3 405.9,983.3 409.6,959.8 413.2,934.7 416.9,908.0 420.6,879.9 424.3,850.4 428.0,819.5 431.7,787.4 435.4,754.2 439.0,719.9 442.7,684.9 446.4,649.2 450.1,613.0 453.8,576.6 457.5,540.3 461.2,504.2 464.8,468.6 468.5,433.8 472.2,400.1 475.9,367.8 479.6,337.0 483.3,308.2 486.9,281.5 490.6,257.1 494.3,235.4 498.0,216.5 501.7,200.7 505.4,187.9 509.1,178.5 512.7,172.4 516.4,169.8 520.1,170.6 523.8,174.9 527.5,182.6 531.2,193.6 534.9,207.9 538.5,225.2 542.2,245.5 545.9,268.4 549.6,293.9 553.3,321.7 557.0,351.5 560.6,383.0 564.3,416.1 568.0,450.3 571.7,485.5 575.4,521.4 579.1,557.6 582.8,594.0 586.4,630.3 590.1,666.3 593.8,701.7 597.5,736.4 601.2,770.2 604.9,802.9 608.6,834.5 612.2,864.7 615.9,893.5 619.6,920.9 623.3,946.8 627.0,971.2 630.7,994.0 634.3,1015.3 638.0,1035.0 641.7,1053.3 645.4,1070.1 649.1,1085.5 652.8,1099.6 656.5,1112.4 660.1,1123.9 663.8,1134.4 667.5,1143.7 671.2,1152.1 674.9,1159.6 678.6,1166.3 682.3,1172.1 685.9,1177.3 689.6,1181.8 693.3,1185.8 697.0,1189.2 700.7,1192.2 704.4,1194.8 708.0,1197.1 711.7,1199.0 715.4,1200.6 719.1,1202.0 722.8,1203.2 726.5,1204.2 730.2,1205.0 733.8,1205.7 737.5,1206.3 741.2,1206.8 744.9,1207.2 748.6,1207.6 752.3,1207.9 756.0,1208.1 759.6,1208.3 763.3,1208.4 767.0,1208.5 770.7,1208.6 774.4,1208.7 778.1,1208.8 781.7,1208.8 785.4,1208.9 789.1,1208.9 792.8,1208.9 796.5,1209.0 800.2,1209.0 803.9,1209.0 807.5,1209.0 811.2,1209.0 814.9,1209.0 818.6,1209.0 822.3,1209.0 826.0,1209.0 829.7,1209.0 833.3,1209.0 837.0,1209.0 840.7,1209.0 844.4,1209.0 848.1,1209.0 851.8,1209.0 855.4,1209.0 859.1,1209.0 862.8,1209.0 866.5,1209.0 870.2,1209.0 873.9,1209.0 877.6,1209.0 881.2,1209.0 884.9,1209.0 888.6,1209.0 892.3,1209.0 896.0,1209.0 899.7,1209.0 903.4,1209.0 907.0,1209.0 910.7,1209.0 914.4,1209.0 918.1,1209.0 921.8,1209.0 925.5,1209.0 929.1,1209.0 932.8,1209.0 936.5,1209.0 940.2,1209.0 943.9,1209.0 947.6,1209.0 951.3,1209.0 954.9,1209.0 958.6,1209.0 962.3,1209.0 966.0,1209.0 969.7,1209.0 973.4,1209.0 977.1,1209.0 980.7,1209.0 984.4,1209.0 988.1,1209.0 991.8,1209.0 995.5,1209.0 999.2,1209.0 1002.9,1209.0 1006.5,1209.0 1010.2,1209.0 1013.9,1209.0 1017.6,1209.0 1021.3,1209.0 1025.0,1209.0 1028.6,1209.0 1032.3,1209.0 1036.0,1209.0 1039.7,1209.0 1043.4,1209.0 1047.1,1209.0 1050.8,1209.0 1054.4,1209.0 1058.1,1209.0 1061.8,1209.0 1065.5,1209.0 1069.2,1209.0 1072.9,1209.0 1076.6,1209.0 1080.2,1209.0 1083.9,1209.0 1087.6,1209.0 1091.3,1209.0 1095.0,1209.0 1098.7,1209.0 1102.3,1209.0 1106.0,1209.0 1109.7,1209.0 1113.4,1209.0 1117.1,1209.0 1120.8,1209.0 1124.5,1209.0 1128.1,1209.0 1131.8,1209.0 1135.5,1209.0 1139.2,1209.0 1142.9,1209.0 1146.6,1209.0 1150.3,1209.0 1153.9,1209.0 1157.6,1209.0 1161.3,1209.0 1165.0,1209.0 1168.7,1209.0 1172.4,1209.0 1176.0,1209.0 1179.7,1209.0 1183.4,1209.0 1187.1,1209.0 1190.8,1209.0 1194.5,1209.0 1198.2,1209.0 1201.8,1209.0 1205.5,1209.0 1209.2,1209.0 1212.9,1209.0 1216.6,1209.0 1220.3,1209.0 1224.0,1209.0 1227.6,1209.0 1231.3,1209.0 1235.0,1209.0 1238.7,1209.0 1242.4,1209.0 1246.1,1209.0 1249.7,1209.0 1253.4,1209.0 1257.1,1209.0 1260.8,1209.0 1264.5,1209.0 1268.2,1209.0 1271.9,1209.0 1275.5,1209.0 1279.2,1209.0 1282.9,1209.0 1286.6,1209.0 1290.3,1209.0 1294.0,1209.0 1297.7,1209.0 1301.3,1209.0 1305.0,1209.0 1308.7,1209.0 1312.4,1209.0 1316.1,1209.0 1319.8,1209.0 1323.4,1209.0 1327.1,1209.0 1330.8,1209.0 1334.5,1209.0 1338.2,1209.0 1341.9,1209.0 1345.6,1209.0 1349.2,1209.0 1352.9,1209.0 1356.6,1209.0 1360.3,1209.0 1364.0,1209.0 1367.7,1209.0 1371.4,1209.0 1375.0,1209.0 1378.7,1209.0 1382.4,1209.0 1386.1,1209.0 1389.8,1209.0 1393.5,1209.0 1397.1,1209.0 1400.8,1209.0 1404.5,1209.0 1408.2,1209.0 1411.9,1209.0 1415.6,1209.0 1419.3,1209.0 1422.9,1209.0 1426.6,1209.0 1430.3,1209.0 1434.0,1209.0 1437.7,1209.0 1441.4,1209.0 1445.1,1209.0 1448.7,1209.0 1452.4,1209.0 1456.1,1209.0 1459.8,1209.0 1463.5,1209.0 1467.2,1209.0 1470.8,1209.0 1474.5,1209.0 1478.2,1209.0 1481.9,1209.0 1485.6,1209.0 1489.3,1209.0 1493.0,1209.0 1496.6,1209.0 1500.3,1209.0 1504.0,1209.0 1507.7,1209.0 1511.4,1209.0 1515.1,1209.0 1518.8,1209.0 1522.4,1209.0 1526.1,1209.0 1529.8,1209.0 1533.5,1209.0 1537.2,1209.0 1540.9,1209.0 1544.5,1209.0 1548.2,1209.0 1551.9,1209.0 1555.6,1209.0 1559.3,1209.0 1563.0,1209.0 1566.7,1209.0 1570.3,1209.0 1574.0,1209.0 1577.7,1209.0 1581.4,1209.0 1585.1,1209.0 1588.8,1209.0 1592.5,1209.0 1596.1,1209.0 1599.8,1209.0 1603.5,1209.0 1607.2,1209.0 1610.9,1209.0 1614.6,1209.0 1618.2,1209.0 1621.9,1209.0 1625.6,1209.0 1629.3,1209.0 1633.0,1209.0 1636.7,1209.0 1640.4,1209.0 1644.0,1209.0 1647.7,1209.0 1651.4,1209.0 1655.1,1209.0 1658.8,1209.0 1662.5,1209.0 1666.2,1209.0 1669.8,1209.0 1673.5,1209.0 1677.2,1209.0 1680.9,1209.0 1684.6,1209.0 1688.3,1209.0 1692.0,1209.0 1695.6,1209.0 1699.3,1209.0 1703.0,1209.0 1706.7,1209.0 1710.4,1209.0 1714.1,1209.0 1717.7,1209.0 1721.4,1209.0 1725.1,1209.0 1728.8,1209.0 1732.5,1209.0 1736.2,1209.0 1739.9,1209.0 1743.5,1209.0 1747.2,1209.0 1750.9,1209.0 1754.6,1209.0 1758.3,1209.0"/>
</g>
<g stroke="#000" stroke-width="3.4" fill="none" stroke-linecap="butt">
<rect x="263.0" y="56.5" width="1595.2" height="1178.5"/>
<path d="M263.0 1235.0v24M369.4 1235.0v11M475.7 1235.0v11M582.0 1235.0v11M688.4 1235.0v24M794.8 1235.0v11M901.1 1235.0v11M1007.4 1235.0v11M1113.8 1235.0v24M1220.2 1235.0v11M1326.5 1235.0v11M1432.8 1235.0v11M1539.2 1235.0v24M1645.5 1235.0v11M1751.9 1235.0v11M1858.2 1235.0v11M263.0 1214.3h-24M263.0 1109.1h-11M263.0 1003.9h-24M263.0 898.7h-11M263.0 793.5h-24M263.0 688.3h-11M263.0 583.1h-24M263.0 477.9h-11M263.0 372.7h-24M263.0 267.5h-11M263.0 162.3h-24M263.0 57.1h-11"/>
</g>
<g font-family='"Liberation Sans", Arial, Helvetica, sans-serif' font-size="75" fill="#000" stroke="#000" stroke-width="0.9" stroke-linejoin="round">
<text x="263.0" y="1334.0" text-anchor="middle">0</text>
<text x="688.4" y="1334.0" text-anchor="middle">20</text>
<text x="1113.8" y="1334.0" text-anchor="middle">40</text>
<text x="1539.2" y="1334.0" text-anchor="middle">60</text>
<text x="222.0" y="1236.8" text-anchor="end">0.0</text>
<text x="222.0" y="1026.4" text-anchor="end">0.2</text>
<text x="222.0" y="816.0" text-anchor="end">0.4</text>
<text x="222.0" y="605.6" text-anchor="end">0.6</text>
<text x="222.0" y="395.2" text-anchor="end">0.8</text>
<text x="222.0" y="184.8" text-anchor="end">1.0</text>
<text x="1060.6" y="1452.5" text-anchor="middle">Diameter (nm)</text>
<text transform="translate(89.0 645.8) rotate(-90)" text-anchor="middle">Counts (n.u.)</text>
</g>
<rect x="261.3" y="58.2" width="78.5" height="122.99999999999999" fill="#ff0000"/>
<text x="298" y="155.5" text-anchor="middle" font-family='"Liberation Sans", Arial, Helvetica, sans-serif' font-weight="bold" font-size="115" fill="#fff">a</text>
<text x="412.5" y="135" font-family='"Liberation Sans", Arial, Helvetica, sans-serif' font-weight="bold" font-size="62" fill="#0000f0">12 nm</text>
<text x="643.5" y="135" font-family='"Liberation Sans", Arial, Helvetica, sans-serif' font-weight="bold" font-size="62" fill="#ff0000">15 nm</text>
<text x="940.5" y="689" font-family='"Liberation Sans", Arial, Helvetica, sans-serif' font-weight="bold" font-size="62" fill="#ff0000">26 nm</text>
<text y="738.5" font-family='"Liberation Sans", Arial, Helvetica, sans-serif' font-weight="bold" font-size="66" fill="#000"><tspan x="1328.5">100 </tspan><tspan x="1454.5" font-family='"Liberation Serif", "DejaVu Serif", serif' font-weight="normal" font-size="70">μ</tspan><tspan x="1492.5">J/pulse</tspan></text>
<rect x="917.5" y="92" width="163" height="80.5" fill="#0000ff" fill-opacity="0.3"/>
<rect x="917.5" y="92" width="163" height="80.5" fill="url(#hba)" stroke="#8080e0" stroke-width="1"/>
<rect x="917.5" y="183.5" width="163" height="80.5" fill="#ff0000" fill-opacity="0.3"/>
<rect x="917.5" y="183.5" width="163" height="80.5" fill="url(#hra)" stroke="#e08080" stroke-width="1"/>
<text x="1100" y="157" font-family='"Liberation Sans", Arial, Helvetica, sans-serif' font-weight="bold" font-size="72.4" fill="#0000f0">AuSi NHs: 30 mg/L</text>
<text y="248" font-family='"Liberation Sans", Arial, Helvetica, sans-serif' font-weight="bold" font-size="72.4" fill="#ff0000" xml:space="preserve"><tspan x="1100">Au NPs: </tspan><tspan x="1525">0 mg/L</tspan></text>
</g>
<g id="panel-b">
<clipPath id="clipb"><rect x="275.0" y="1541.5" width="1598.2" height="1181.0"/></clipPath>
<g clip-path="url(#clipb)">
<g class="bb">
<rect x="275.0" y="2691.8" width="29.8" height="30.7"/>
<rect x="309.1" y="2670.7" width="38.4" height="51.8"/>
<rect x="351.7" y="2609.5" width="38.4" height="113.0"/>
<rect x="394.3" y="2445.9" width="38.4" height="276.6"/>
<rect x="437.0" y="2153.5" width="38.4" height="569.0"/>
<rect x="479.6" y="1743.9" width="38.4" height="978.6"/>
<rect x="522.2" y="1646.8" width="38.4" height="1075.7"/>
<rect x="564.8" y="1900.1" width="38.4" height="822.4"/>
<rect x="607.4" y="2135.5" width="38.4" height="587.0"/>
<rect x="650.1" y="2309.7" width="38.4" height="412.8"/>
<rect x="692.7" y="2475.4" width="38.4" height="247.1"/>
<rect x="735.3" y="2570.5" width="38.4" height="152.0"/>
<rect x="777.9" y="2614.8" width="38.4" height="107.7"/>
<rect x="820.5" y="2644.3" width="38.4" height="78.2"/>
<rect x="863.2" y="2660.2" width="38.4" height="62.3"/>
<rect x="905.8" y="2670.7" width="38.4" height="51.8"/>
<rect x="948.4" y="2681.3" width="38.4" height="41.2"/>
<rect x="991.0" y="2681.3" width="38.4" height="41.2"/>
<rect x="1033.6" y="2686.6" width="38.4" height="35.9"/>
<rect x="1076.3" y="2686.6" width="38.4" height="35.9"/>
<rect x="1118.9" y="2691.8" width="38.4" height="30.7"/>
<rect x="1161.5" y="2691.8" width="38.4" height="30.7"/>
<rect x="1204.1" y="2691.8" width="38.4" height="30.7"/>
<rect x="1246.7" y="2681.3" width="38.4" height="41.2"/>
<rect x="1289.4" y="2691.8" width="38.4" height="30.7"/>
<rect x="1332.0" y="2691.8" width="38.4" height="30.7"/>
<rect x="1374.6" y="2691.8" width="38.4" height="30.7"/>
<rect x="1417.2" y="2691.8" width="38.4" height="30.7"/>
<rect x="1459.8" y="2691.8" width="38.4" height="30.7"/>
<rect x="1502.5" y="2691.8" width="38.4" height="30.7"/>
<rect x="1545.1" y="2691.8" width="38.4" height="30.7"/>
<rect x="1587.7" y="2691.8" width="38.4" height="30.7"/>
<rect x="1630.3" y="2689.7" width="38.4" height="32.8"/>
<rect x="1672.9" y="2689.7" width="38.4" height="32.8"/>
<rect x="1715.6" y="2689.7" width="38.4" height="32.8"/>
<rect x="1758.2" y="2691.8" width="38.4" height="30.7"/>
<rect x="1800.8" y="2691.8" width="38.4" height="30.7"/>
<rect x="1843.4" y="2691.8" width="29.8" height="30.7"/>
</g>
<g fill="url(#hbb)">
<rect x="275.0" y="2691.8" width="29.8" height="30.7"/>
<rect x="309.1" y="2670.7" width="38.4" height="51.8"/>
<rect x="351.7" y="2609.5" width="38.4" height="113.0"/>
<rect x="394.3" y="2445.9" width="38.4" height="276.6"/>
<rect x="437.0" y="2153.5" width="38.4" height="569.0"/>
<rect x="479.6" y="1743.9" width="38.4" height="978.6"/>
<rect x="522.2" y="1646.8" width="38.4" height="1075.7"/>
<rect x="564.8" y="1900.1" width="38.4" height="822.4"/>
<rect x="607.4" y="2135.5" width="38.4" height="587.0"/>
<rect x="650.1" y="2309.7" width="38.4" height="412.8"/>
<rect x="692.7" y="2475.4" width="38.4" height="247.1"/>
<rect x="735.3" y="2570.5" width="38.4" height="152.0"/>
<rect x="777.9" y="2614.8" width="38.4" height="107.7"/>
<rect x="820.5" y="2644.3" width="38.4" height="78.2"/>
<rect x="863.2" y="2660.2" width="38.4" height="62.3"/>
<rect x="905.8" y="2670.7" width="38.4" height="51.8"/>
<rect x="948.4" y="2681.3" width="38.4" height="41.2"/>
<rect x="991.0" y="2681.3" width="38.4" height="41.2"/>
<rect x="1033.6" y="2686.6" width="38.4" height="35.9"/>
<rect x="1076.3" y="2686.6" width="38.4" height="35.9"/>
<rect x="1118.9" y="2691.8" width="38.4" height="30.7"/>
<rect x="1161.5" y="2691.8" width="38.4" height="30.7"/>
<rect x="1204.1" y="2691.8" width="38.4" height="30.7"/>
<rect x="1246.7" y="2681.3" width="38.4" height="41.2"/>
<rect x="1289.4" y="2691.8" width="38.4" height="30.7"/>
<rect x="1332.0" y="2691.8" width="38.4" height="30.7"/>
<rect x="1374.6" y="2691.8" width="38.4" height="30.7"/>
<rect x="1417.2" y="2691.8" width="38.4" height="30.7"/>
<rect x="1459.8" y="2691.8" width="38.4" height="30.7"/>
<rect x="1502.5" y="2691.8" width="38.4" height="30.7"/>
<rect x="1545.1" y="2691.8" width="38.4" height="30.7"/>
<rect x="1587.7" y="2691.8" width="38.4" height="30.7"/>
<rect x="1630.3" y="2689.7" width="38.4" height="32.8"/>
<rect x="1672.9" y="2689.7" width="38.4" height="32.8"/>
<rect x="1715.6" y="2689.7" width="38.4" height="32.8"/>
<rect x="1758.2" y="2691.8" width="38.4" height="30.7"/>
<rect x="1800.8" y="2691.8" width="38.4" height="30.7"/>
<rect x="1843.4" y="2691.8" width="29.8" height="30.7"/>
</g>
<polyline class="bl" points="296.3,2677.6 300.2,2676.1 304.0,2674.5 307.9,2672.7 311.8,2670.6 315.6,2668.2 319.5,2665.5 323.3,2662.5 327.2,2659.1 331.1,2655.3 334.9,2651.1 338.8,2646.4 342.7,2641.2 346.5,2635.4 350.4,2629.1 354.2,2622.1 358.1,2614.4 362.0,2606.0 365.8,2596.8 369.7,2586.8 373.6,2575.9 377.4,2564.1 381.3,2551.4 385.1,2537.8 389.0,2523.1 392.9,2507.4 396.7,2490.7 400.6,2472.9 404.5,2454.1 408.3,2434.1 412.2,2413.1 416.0,2391.0 419.9,2367.9 423.8,2343.8 427.6,2318.7 431.5,2292.7 435.4,2265.9 439.2,2238.3 443.1,2210.0 446.9,2181.0 450.8,2151.6 454.7,2121.8 458.5,2091.7 462.4,2061.4 466.3,2031.2 470.1,2001.1 474.0,1971.3 477.8,1941.9 481.7,1913.1 485.6,1885.1 489.4,1858.1 493.3,1832.1 497.2,1807.3 501.0,1784.0 504.9,1762.1 508.7,1742.0 512.6,1723.7 516.5,1707.3 520.3,1693.0 524.2,1680.8 528.1,1670.8 531.9,1663.1 535.8,1657.8 539.6,1654.8 543.5,1654.3 547.4,1656.2 551.2,1660.4 555.1,1667.0 559.0,1676.0 562.8,1687.2 566.7,1700.6 570.5,1716.1 574.4,1733.6 578.3,1752.9 582.1,1774.0 586.0,1796.7 589.9,1820.8 593.7,1846.3 597.6,1872.9 601.4,1900.5 605.3,1928.9 609.2,1958.1 613.0,1987.7 616.9,2017.7 620.8,2047.9 624.6,2078.1 628.5,2108.3 632.3,2138.3 636.2,2167.9 640.1,2197.1 643.9,2225.7 647.8,2253.6 651.7,2280.8 655.5,2307.2 659.4,2332.7 663.2,2357.2 667.1,2380.8 671.0,2403.3 674.8,2424.8 678.7,2445.3 682.6,2464.6 686.4,2482.9 690.3,2500.1 694.1,2516.2 698.0,2531.3 701.9,2545.4 705.7,2558.6 709.6,2570.7 713.5,2582.0 717.3,2592.4 721.2,2601.9 725.0,2610.7 728.9,2618.7 732.8,2626.0 736.6,2632.7 740.5,2638.7 744.4,2644.1 748.2,2649.1 752.1,2653.5 755.9,2657.5 759.8,2661.0 763.7,2664.2 767.5,2667.0 771.4,2669.5 775.3,2671.7 779.1,2673.7 783.0,2675.4 786.8,2677.0 790.7,2678.3 794.6,2679.4 798.4,2680.5 802.3,2681.3 806.2,2682.1 810.0,2682.8 813.9,2683.3 817.7,2683.8 821.6,2684.3 825.5,2684.6 829.3,2684.9 833.2,2685.2 837.1,2685.4 840.9,2685.6 844.8,2685.8 848.6,2685.9 852.5,2686.0 856.4,2686.1 860.2,2686.2 864.1,2686.3 868.0,2686.3 871.8,2686.4 875.7,2686.4 879.5,2686.4 883.4,2686.5 887.3,2686.5 891.1,2686.5 895.0,2686.5 898.9,2686.5 902.7,2686.5 906.6,2686.5 910.4,2686.5 914.3,2686.5 918.2,2686.5 922.0,2686.6 925.9,2686.6 929.7,2686.6 933.6,2686.6 937.5,2686.6 941.3,2686.6 945.2,2686.6 949.1,2686.6 952.9,2686.6 956.8,2686.6 960.6,2686.6 964.5,2686.6 968.4,2686.6 972.2,2686.6 976.1,2686.6 980.0,2686.6 983.8,2686.6 987.7,2686.6 991.5,2686.6 995.4,2686.6 999.3,2686.6 1003.1,2686.6 1007.0,2686.6 1010.9,2686.6 1014.7,2686.6 1018.6,2686.6 1022.4,2686.6 1026.3,2686.6 1030.2,2686.6 1034.0,2686.6 1037.9,2686.6 1041.8,2686.6 1045.6,2686.6 1049.5,2686.6 1053.3,2686.6 1057.2,2686.6 1061.1,2686.6 1064.9,2686.6 1068.8,2686.6 1072.7,2686.6 1076.5,2686.6 1080.4,2686.6 1084.2,2686.6 1088.1,2686.6 1092.0,2686.6 1095.8,2686.6 1099.7,2686.6 1103.6,2686.6 1107.4,2686.6 1111.3,2686.6 1115.1,2686.6 1119.0,2686.6 1122.9,2686.6 1126.7,2686.6 1130.6,2686.6 1134.5,2686.6 1138.3,2686.6 1142.2,2686.6 1146.0,2686.6 1149.9,2686.6 1153.8,2686.6 1157.6,2686.6 1161.5,2686.6 1165.4,2686.6 1169.2,2686.6 1173.1,2686.6 1176.9,2686.6 1180.8,2686.6 1184.7,2686.6 1188.5,2686.6 1192.4,2686.6 1196.3,2686.6 1200.1,2686.6 1204.0,2686.6 1207.8,2686.6 1211.7,2686.6 1215.6,2686.6 1219.4,2686.6 1223.3,2686.6 1227.2,2686.6 1231.0,2686.6 1234.9,2686.6 1238.7,2686.6 1242.6,2686.6 1246.5,2686.6 1250.3,2686.6 1254.2,2686.6 1258.1,2686.6 1261.9,2686.6 1265.8,2686.6 1269.6,2686.6 1273.5,2686.6 1277.4,2686.6 1281.2,2686.6 1285.1,2686.6 1289.0,2686.6 1292.8,2686.6 1296.7,2686.6 1300.5,2686.6 1304.4,2686.6 1308.3,2686.6 1312.1,2686.6 1316.0,2686.6 1319.9,2686.6 1323.7,2686.6 1327.6,2686.6 1331.4,2686.6 1335.3,2686.6 1339.2,2686.6 1343.0,2686.6 1346.9,2686.6 1350.8,2686.6 1354.6,2686.6 1358.5,2686.6 1362.3,2686.6 1366.2,2686.6 1370.1,2686.6 1373.9,2686.6 1377.8,2686.6 1381.7,2686.6 1385.5,2686.6 1389.4,2686.6 1393.2,2686.6 1397.1,2686.6 1401.0,2686.6 1404.8,2686.6 1408.7,2686.6 1412.6,2686.6 1416.4,2686.6 1420.3,2686.6 1424.1,2686.6 1428.0,2686.6 1431.9,2686.6 1435.7,2686.6 1439.6,2686.6 1443.5,2686.6 1447.3,2686.6 1451.2,2686.6 1455.0,2686.6 1458.9,2686.6 1462.8,2686.6 1466.6,2686.6 1470.5,2686.6 1474.4,2686.6 1478.2,2686.6 1482.1,2686.6 1485.9,2686.6 1489.8,2686.6 1493.7,2686.6 1497.5,2686.6 1501.4,2686.6 1505.3,2686.6 1509.1,2686.6 1513.0,2686.6 1516.8,2686.6 1520.7,2686.6 1524.6,2686.6 1528.4,2686.6 1532.3,2686.6 1536.2,2686.6 1540.0,2686.6 1543.9,2686.6 1547.7,2686.6 1551.6,2686.6 1555.5,2686.6 1559.3,2686.6 1563.2,2686.6 1567.1,2686.6 1570.9,2686.6 1574.8,2686.6 1578.6,2686.6 1582.5,2686.6 1586.4,2686.6 1590.2,2686.6 1594.1,2686.6 1598.0,2686.6 1601.8,2686.6 1605.7,2686.6 1609.5,2686.6 1613.4,2686.6 1617.3,2686.6 1621.1,2686.6 1625.0,2686.6 1628.9,2686.6 1632.7,2686.6 1636.6,2686.6 1640.4,2686.6 1644.3,2686.6 1648.2,2686.6 1652.0,2686.6 1655.9,2686.6 1659.8,2686.6 1663.6,2686.6 1667.5,2686.6 1671.3,2686.6 1675.2,2686.6 1679.1,2686.6 1682.9,2686.6 1686.8,2686.6 1690.6,2686.6 1694.5,2686.6 1698.4,2686.6 1702.2,2686.6 1706.1,2686.6 1710.0,2686.6 1713.8,2686.6 1717.7,2686.6 1721.5,2686.6 1725.4,2686.6 1729.3,2686.6 1733.1,2686.6 1737.0,2686.6 1740.9,2686.6 1744.7,2686.6 1748.6,2686.6 1752.4,2686.6 1756.3,2686.6 1760.2,2686.6 1764.0,2686.6 1767.9,2686.6 1771.8,2686.6 1775.6,2686.6 1779.5,2686.6 1783.3,2686.6 1787.2,2686.6 1791.1,2686.6 1794.9,2686.6 1798.8,2686.6 1802.7,2686.6 1806.5,2686.6 1810.4,2686.6 1814.2,2686.6 1818.1,2686.6 1822.0,2686.6 1825.8,2686.6 1829.7,2686.6 1833.6,2686.6 1837.4,2686.6 1841.3,2686.6"/>
<g class="rb">
<rect x="277.1" y="2681.3" width="38.4" height="41.2"/>
<rect x="319.8" y="2660.2" width="38.4" height="62.3"/>
<rect x="362.4" y="2632.7" width="38.4" height="89.8"/>
<rect x="405.0" y="2554.6" width="38.4" height="167.9"/>
<rect x="447.6" y="2527.2" width="38.4" height="195.3"/>
<rect x="490.2" y="2233.7" width="38.4" height="488.8"/>
<rect x="532.9" y="1981.4" width="38.4" height="741.1"/>
<rect x="575.5" y="1799.9" width="38.4" height="922.6"/>
<rect x="618.1" y="1673.2" width="38.4" height="1049.3"/>
<rect x="660.7" y="1652.1" width="38.4" height="1070.4"/>
<rect x="703.3" y="1678.5" width="38.4" height="1044.0"/>
<rect x="746.0" y="1739.7" width="38.4" height="982.8"/>
<rect x="788.6" y="1868.5" width="38.4" height="854.0"/>
<rect x="831.2" y="1977.2" width="38.4" height="745.3"/>
<rect x="873.8" y="2074.3" width="38.4" height="648.2"/>
<rect x="916.4" y="2119.7" width="38.4" height="602.8"/>
<rect x="959.1" y="2169.3" width="38.4" height="553.2"/>
<rect x="1001.7" y="2217.9" width="38.4" height="504.6"/>
<rect x="1044.3" y="2235.8" width="38.4" height="486.7"/>
<rect x="1086.9" y="2262.2" width="38.4" height="460.3"/>
<rect x="1129.5" y="2286.5" width="38.4" height="436.0"/>
<rect x="1172.2" y="2319.2" width="38.4" height="403.3"/>
<rect x="1214.8" y="2364.6" width="38.4" height="357.9"/>
<rect x="1257.4" y="2386.8" width="38.4" height="335.7"/>
<rect x="1300.0" y="2457.5" width="38.4" height="265.0"/>
<rect x="1342.6" y="2474.9" width="38.4" height="247.6"/>
<rect x="1385.3" y="2510.3" width="38.4" height="212.2"/>
<rect x="1427.9" y="2533.5" width="38.4" height="189.0"/>
<rect x="1470.5" y="2570.5" width="38.4" height="152.0"/>
<rect x="1513.1" y="2593.7" width="38.4" height="128.8"/>
<rect x="1555.7" y="2605.3" width="38.4" height="117.2"/>
<rect x="1598.4" y="2621.1" width="38.4" height="101.4"/>
<rect x="1641.0" y="2637.0" width="38.4" height="85.5"/>
<rect x="1683.6" y="2638.5" width="38.4" height="84.0"/>
<rect x="1726.2" y="2651.7" width="38.4" height="70.8"/>
<rect x="1768.8" y="2650.1" width="38.4" height="72.4"/>
<rect x="1811.5" y="2653.8" width="38.4" height="68.7"/>
<rect x="1854.1" y="2660.2" width="19.2" height="62.3"/>
</g>
<g fill="url(#hrb)">
<rect x="277.1" y="2681.3" width="38.4" height="41.2"/>
<rect x="319.8" y="2660.2" width="38.4" height="62.3"/>
<rect x="362.4" y="2632.7" width="38.4" height="89.8"/>
<rect x="405.0" y="2554.6" width="38.4" height="167.9"/>
<rect x="447.6" y="2527.2" width="38.4" height="195.3"/>
<rect x="490.2" y="2233.7" width="38.4" height="488.8"/>
<rect x="532.9" y="1981.4" width="38.4" height="741.1"/>
<rect x="575.5" y="1799.9" width="38.4" height="922.6"/>
<rect x="618.1" y="1673.2" width="38.4" height="1049.3"/>
<rect x="660.7" y="1652.1" width="38.4" height="1070.4"/>
<rect x="703.3" y="1678.5" width="38.4" height="1044.0"/>
<rect x="746.0" y="1739.7" width="38.4" height="982.8"/>
<rect x="788.6" y="1868.5" width="38.4" height="854.0"/>
<rect x="831.2" y="1977.2" width="38.4" height="745.3"/>
<rect x="873.8" y="2074.3" width="38.4" height="648.2"/>
<rect x="916.4" y="2119.7" width="38.4" height="602.8"/>
<rect x="959.1" y="2169.3" width="38.4" height="553.2"/>
<rect x="1001.7" y="2217.9" width="38.4" height="504.6"/>
<rect x="1044.3" y="2235.8" width="38.4" height="486.7"/>
<rect x="1086.9" y="2262.2" width="38.4" height="460.3"/>
<rect x="1129.5" y="2286.5" width="38.4" height="436.0"/>
<rect x="1172.2" y="2319.2" width="38.4" height="403.3"/>
<rect x="1214.8" y="2364.6" width="38.4" height="357.9"/>
<rect x="1257.4" y="2386.8" width="38.4" height="335.7"/>
<rect x="1300.0" y="2457.5" width="38.4" height="265.0"/>
<rect x="1342.6" y="2474.9" width="38.4" height="247.6"/>
<rect x="1385.3" y="2510.3" width="38.4" height="212.2"/>
<rect x="1427.9" y="2533.5" width="38.4" height="189.0"/>
<rect x="1470.5" y="2570.5" width="38.4" height="152.0"/>
<rect x="1513.1" y="2593.7" width="38.4" height="128.8"/>
<rect x="1555.7" y="2605.3" width="38.4" height="117.2"/>
<rect x="1598.4" y="2621.1" width="38.4" height="101.4"/>
<rect x="1641.0" y="2637.0" width="38.4" height="85.5"/>
<rect x="1683.6" y="2638.5" width="38.4" height="84.0"/>
<rect x="1726.2" y="2651.7" width="38.4" height="70.8"/>
<rect x="1768.8" y="2650.1" width="38.4" height="72.4"/>
<rect x="1811.5" y="2653.8" width="38.4" height="68.7"/>
<rect x="1854.1" y="2660.2" width="19.2" height="62.3"/>
</g>
<polyline class="rl" points="296.3,2666.8 300.3,2664.9 304.3,2662.9 308.3,2660.7 312.3,2658.4 316.3,2656.0 320.3,2653.5 324.3,2650.8 328.3,2647.9 332.3,2644.9 336.3,2641.7 340.3,2638.3 344.3,2634.7 348.3,2630.9 352.2,2626.9 356.2,2622.7 360.2,2618.2 364.2,2613.6 368.2,2608.6 372.2,2603.4 376.2,2598.0 380.2,2592.3 384.2,2586.2 388.2,2579.9 392.2,2573.3 396.2,2566.3 400.2,2559.1 404.2,2551.5 408.2,2543.5 412.2,2535.2 416.2,2526.6 420.2,2517.6 424.2,2508.2 428.2,2498.4 432.2,2488.3 436.2,2477.8 440.2,2466.8 444.1,2455.5 448.1,2443.8 452.1,2431.7 456.1,2419.3 460.1,2406.4 464.1,2393.1 468.1,2379.5 472.1,2365.5 476.1,2351.1 480.1,2336.3 484.1,2321.2 488.1,2305.8 492.1,2290.0 496.1,2273.9 500.1,2257.6 504.1,2240.9 508.1,2224.0 512.1,2206.8 516.1,2189.4 520.1,2171.8 524.1,2154.1 528.1,2136.2 532.1,2118.1 536.0,2100.0 540.0,2081.8 544.0,2063.6 548.0,2045.4 552.0,2027.2 556.0,2009.1 560.0,1991.0 564.0,1973.1 568.0,1955.4 572.0,1937.8 576.0,1920.5 580.0,1903.5 584.0,1886.7 588.0,1870.3 592.0,1854.3 596.0,1838.7 600.0,1823.5 604.0,1808.8 608.0,1794.6 612.0,1780.9 616.0,1767.8 620.0,1755.2 624.0,1743.3 627.9,1732.0 631.9,1721.4 635.9,1711.5 639.9,1702.2 643.9,1693.7 647.9,1685.9 651.9,1678.9 655.9,1672.6 659.9,1667.1 663.9,1662.3 667.9,1658.4 671.9,1655.2 675.9,1652.7 679.9,1651.1 683.9,1650.2 687.9,1650.1 691.9,1650.7 695.9,1652.0 699.9,1654.1 703.9,1656.9 707.9,1660.3 711.9,1664.5 715.9,1669.2 719.8,1674.6 723.8,1680.6 727.8,1687.2 731.8,1694.3 735.8,1701.9 739.8,1710.0 743.8,1718.6 747.8,1727.5 751.8,1736.9 755.8,1746.6 759.8,1756.7 763.8,1767.0 767.8,1777.6 771.8,1788.5 775.8,1799.5 779.8,1810.7 783.8,1822.0 787.8,1833.4 791.8,1844.9 795.8,1856.4 799.8,1868.0 803.8,1879.5 807.8,1891.0 811.7,1902.5 815.7,1913.8 819.7,1925.0 823.7,1936.1 827.7,1947.1 831.7,1957.9 835.7,1968.5 839.7,1978.9 843.7,1989.1 847.7,1999.0 851.7,2008.7 855.7,2018.2 859.7,2027.4 863.7,2036.3 867.7,2045.0 871.7,2053.3 875.7,2061.5 879.7,2069.3 883.7,2076.8 887.7,2084.1 891.7,2091.1 895.7,2097.8 899.6,2104.2 903.6,2110.4 907.6,2116.3 911.6,2121.9 915.6,2127.3 919.6,2132.4 923.6,2137.3 927.6,2142.0 931.6,2146.4 935.6,2150.7 939.6,2154.7 943.6,2158.5 947.6,2162.2 951.6,2165.6 955.6,2168.9 959.6,2172.1 963.6,2175.1 967.6,2177.9 971.6,2180.7 975.6,2183.3 979.6,2185.8 983.6,2188.2 987.6,2190.5 991.5,2192.8 995.5,2194.9 999.5,2197.0 1003.5,2199.1 1007.5,2201.1 1011.5,2203.1 1015.5,2205.0 1019.5,2207.0 1023.5,2208.9 1027.5,2210.8 1031.5,2212.7 1035.5,2214.6 1039.5,2216.5 1043.5,2218.4 1047.5,2220.4 1051.5,2222.4 1055.5,2224.4 1059.5,2226.4 1063.5,2228.5 1067.5,2230.6 1071.5,2232.7 1075.5,2234.9 1079.5,2237.2 1083.4,2239.5 1087.4,2241.8 1091.4,2244.2 1095.4,2246.6 1099.4,2249.1 1103.4,2251.7 1107.4,2254.3 1111.4,2257.0 1115.4,2259.7 1119.4,2262.5 1123.4,2265.3 1127.4,2268.2 1131.4,2271.1 1135.4,2274.1 1139.4,2277.2 1143.4,2280.3 1147.4,2283.5 1151.4,2286.7 1155.4,2290.0 1159.4,2293.3 1163.4,2296.7 1167.4,2300.1 1171.4,2303.6 1175.3,2307.1 1179.3,2310.6 1183.3,2314.2 1187.3,2317.9 1191.3,2321.6 1195.3,2325.3 1199.3,2329.1 1203.3,2332.9 1207.3,2336.7 1211.3,2340.5 1215.3,2344.4 1219.3,2348.4 1223.3,2352.3 1227.3,2356.3 1231.3,2360.3 1235.3,2364.3 1239.3,2368.3 1243.3,2372.4 1247.3,2376.5 1251.3,2380.6 1255.3,2384.7 1259.3,2388.8 1263.3,2392.9 1267.2,2397.0 1271.2,2401.1 1275.2,2405.3 1279.2,2409.4 1283.2,2413.6 1287.2,2417.7 1291.2,2421.8 1295.2,2426.0 1299.2,2430.1 1303.2,2434.2 1307.2,2438.3 1311.2,2442.4 1315.2,2446.5 1319.2,2450.6 1323.2,2454.6 1327.2,2458.7 1331.2,2462.7 1335.2,2466.7 1339.2,2470.7 1343.2,2474.6 1347.2,2478.6 1351.2,2482.5 1355.2,2486.4 1359.1,2490.3 1363.1,2494.1 1367.1,2497.9 1371.1,2501.7 1375.1,2505.4 1379.1,2509.2 1383.1,2512.8 1387.1,2516.5 1391.1,2520.1 1395.1,2523.7 1399.1,2527.3 1403.1,2530.8 1407.1,2534.3 1411.1,2537.7 1415.1,2541.1 1419.1,2544.5 1423.1,2547.8 1427.1,2551.1 1431.1,2554.3 1435.1,2557.5 1439.1,2560.7 1443.1,2563.8 1447.0,2566.9 1451.0,2569.9 1455.0,2572.9 1459.0,2575.9 1463.0,2578.8 1467.0,2581.7 1471.0,2584.5 1475.0,2587.3 1479.0,2590.0 1483.0,2592.7 1487.0,2595.4 1491.0,2598.0 1495.0,2600.6 1499.0,2603.1 1503.0,2605.6 1507.0,2608.0 1511.0,2610.4 1515.0,2612.8 1519.0,2615.1 1523.0,2617.4 1527.0,2619.6 1531.0,2621.8 1535.0,2623.9 1538.9,2626.0 1542.9,2628.1 1546.9,2630.1 1550.9,2632.1 1554.9,2634.0 1558.9,2635.9 1562.9,2637.8 1566.9,2639.6 1570.9,2641.4 1574.9,2643.1 1578.9,2644.8 1582.9,2646.5 1586.9,2648.1 1590.9,2649.7 1594.9,2651.3 1598.9,2652.8 1602.9,2654.3 1606.9,2655.7 1610.9,2657.1 1614.9,2658.5 1618.9,2659.9 1622.9,2661.2 1626.9,2662.4 1630.8,2663.7 1634.8,2664.9 1638.8,2666.1 1642.8,2667.3 1646.8,2668.4 1650.8,2669.5 1654.8,2670.6 1658.8,2671.6 1662.8,2672.6 1666.8,2673.6 1670.8,2674.5 1674.8,2675.5 1678.8,2676.4 1682.8,2677.3 1686.8,2678.1 1690.8,2678.9 1694.8,2679.8 1698.8,2680.5 1702.8,2681.3 1706.8,2682.0 1710.8,2682.8 1714.8,2683.4 1718.8,2684.1 1722.7,2684.8 1726.7,2685.4 1730.7,2686.0 1734.7,2686.6 1738.7,2687.2 1742.7,2687.8 1746.7,2688.3 1750.7,2688.8 1754.7,2689.3 1758.7,2689.8 1762.7,2690.3 1766.7,2690.7 1770.7,2691.2 1774.7,2691.6 1778.7,2692.0 1782.7,2692.4 1786.7,2692.8 1790.7,2693.2 1794.7,2693.6 1798.7,2693.9 1802.7,2694.2 1806.7,2694.6 1810.7,2694.9 1814.6,2695.2 1818.6,2695.5 1822.6,2695.8 1826.6,2696.0 1830.6,2696.3 1834.6,2696.5 1838.6,2696.8 1842.6,2697.0 1846.6,2697.2 1850.6,2697.5 1854.6,2697.7 1858.6,2697.9 1862.6,2698.1 1866.6,2698.2 1870.6,2698.4 1874.6,2698.6 1878.6,2698.8 1882.6,2698.9 1886.6,2699.1 1890.6,2699.2 1894.6,2699.4"/>
<rect class="mk" x="281.3" y="2651.8" width="30" height="30"/>
<rect class="mk" x="338.8" y="2610.2" width="30" height="30"/>
<rect class="mk" x="396.4" y="2521.9" width="30" height="30"/>
<rect class="mk" x="453.9" y="2361.7" width="30" height="30"/>
<rect class="mk" x="511.5" y="2128.3" width="30" height="30"/>
<rect class="mk" x="569.0" y="1871.7" width="30" height="30"/>
<rect class="mk" x="626.5" y="1683.7" width="30" height="30"/>
<rect class="mk" x="684.1" y="1638.6" width="30" height="30"/>
<rect class="mk" x="741.6" y="1733.6" width="30" height="30"/>
<rect class="mk" x="799.1" y="1894.3" width="30" height="30"/>
<rect class="mk" x="856.7" y="2038.3" width="30" height="30"/>
<rect class="mk" x="914.2" y="2128.8" width="30" height="30"/>
<rect class="mk" x="971.8" y="2175.1" width="30" height="30"/>
<rect class="mk" x="1029.3" y="2203.8" width="30" height="30"/>
<rect class="mk" x="1086.8" y="2235.7" width="30" height="30"/>
<rect class="mk" x="1144.4" y="2278.3" width="30" height="30"/>
<rect class="mk" x="1201.9" y="2331.0" width="30" height="30"/>
<rect class="mk" x="1259.4" y="2389.5" width="30" height="30"/>
<rect class="mk" x="1317.0" y="2448.5" width="30" height="30"/>
<rect class="mk" x="1374.5" y="2503.7" width="30" height="30"/>
<rect class="mk" x="1432.0" y="2551.9" width="30" height="30"/>
<rect class="mk" x="1489.6" y="2591.6" width="30" height="30"/>
<rect class="mk" x="1547.1" y="2622.4" width="30" height="30"/>
<rect class="mk" x="1604.7" y="2645.1" width="30" height="30"/>
<rect class="mk" x="1662.2" y="2661.0" width="30" height="30"/>
<rect class="mk" x="1719.7" y="2671.6" width="30" height="30"/>
<rect class="mk" x="1777.3" y="2678.3" width="30" height="30"/>
<rect class="mk" x="1834.8" y="2682.4" width="30" height="30"/>
<g fill="#000"><circle cx="296.3" cy="2691.0" r="5.7"/><circle cx="317.5" cy="2684.2" r="5.7"/><circle cx="337.5" cy="2674.7" r="5.7"/><circle cx="355.4" cy="2662.7" r="5.7"/><circle cx="372.2" cy="2648.0" r="5.7"/><circle cx="387.0" cy="2631.6" r="5.7"/><circle cx="400.2" cy="2613.9" r="5.7"/><circle cx="411.8" cy="2595.7" r="5.7"/><circle cx="422.6" cy="2576.3" r="5.7"/><circle cx="432.6" cy="2556.1" r="5.7"/><circle cx="441.4" cy="2536.6" r="5.7"/><circle cx="449.7" cy="2516.4" r="5.7"/><circle cx="457.7" cy="2495.7" r="5.7"/><circle cx="465.3" cy="2474.7" r="5.7"/><circle cx="472.5" cy="2453.7" r="5.7"/><circle cx="479.3" cy="2432.9" r="5.7"/><circle cx="485.7" cy="2412.5" r="5.7"/><circle cx="492.1" cy="2391.4" r="5.7"/><circle cx="498.5" cy="2369.5" r="5.7"/><circle cx="504.5" cy="2348.5" r="5.7"/><circle cx="510.5" cy="2326.9" r="5.7"/><circle cx="516.1" cy="2306.4" r="5.7"/><circle cx="522.1" cy="2284.1" r="5.7"/><circle cx="527.7" cy="2263.1" r="5.7"/><circle cx="533.3" cy="2241.8" r="5.7"/><circle cx="538.8" cy="2220.5" r="5.7"/><circle cx="544.4" cy="2199.2" r="5.7"/><circle cx="550.0" cy="2178.0" r="5.7"/><circle cx="555.6" cy="2156.9" r="5.7"/><circle cx="561.2" cy="2136.1" r="5.7"/><circle cx="567.2" cy="2114.2" r="5.7"/><circle cx="572.8" cy="2094.2" r="5.7"/><circle cx="579.2" cy="2072.0" r="5.7"/><circle cx="585.2" cy="2052.0" r="5.7"/><circle cx="592.0" cy="2030.4" r="5.7"/><circle cx="598.8" cy="2010.0" r="5.7"/><circle cx="606.4" cy="1989.0" r="5.7"/><circle cx="614.4" cy="1968.9" r="5.7"/><circle cx="623.6" cy="1948.9" r="5.7"/><circle cx="634.3" cy="1929.9" r="5.7"/><circle cx="648.7" cy="1912.8" r="5.7"/><circle cx="668.7" cy="1905.6" r="5.7"/><circle cx="687.1" cy="1916.3" r="5.7"/><circle cx="700.3" cy="1933.9" r="5.7"/><circle cx="710.7" cy="1953.3" r="5.7"/><circle cx="719.8" cy="1974.0" r="5.7"/><circle cx="727.8" cy="1994.7" r="5.7"/><circle cx="735.0" cy="2015.1" r="5.7"/><circle cx="741.8" cy="2035.8" r="5.7"/><circle cx="748.6" cy="2057.7" r="5.7"/><circle cx="754.6" cy="2078.0" r="5.7"/><circle cx="760.6" cy="2098.9" r="5.7"/><circle cx="766.6" cy="2120.5" r="5.7"/><circle cx="772.6" cy="2142.5" r="5.7"/><circle cx="778.2" cy="2163.4" r="5.7"/><circle cx="783.8" cy="2184.5" r="5.7"/><circle cx="789.4" cy="2205.8" r="5.7"/><circle cx="795.0" cy="2227.1" r="5.7"/><circle cx="800.6" cy="2248.4" r="5.7"/><circle cx="806.2" cy="2269.6" r="5.7"/><circle cx="811.7" cy="2290.6" r="5.7"/><circle cx="817.3" cy="2311.3" r="5.7"/><circle cx="823.3" cy="2333.2" r="5.7"/><circle cx="829.3" cy="2354.6" r="5.7"/><circle cx="835.3" cy="2375.5" r="5.7"/><circle cx="841.7" cy="2397.2" r="5.7"/><circle cx="848.1" cy="2418.1" r="5.7"/><circle cx="854.5" cy="2438.3" r="5.7"/><circle cx="861.3" cy="2458.9" r="5.7"/><circle cx="868.9" cy="2480.7" r="5.7"/><circle cx="876.1" cy="2500.3" r="5.7"/><circle cx="884.5" cy="2521.7" r="5.7"/><circle cx="892.9" cy="2541.5" r="5.7"/><circle cx="902.0" cy="2561.4" r="5.7"/><circle cx="912.0" cy="2581.0" r="5.7"/><circle cx="922.8" cy="2599.9" r="5.7"/><circle cx="934.8" cy="2618.1" r="5.7"/><circle cx="948.4" cy="2635.6" r="5.7"/><circle cx="963.6" cy="2651.6" r="5.7"/><circle cx="980.4" cy="2665.5" r="5.7"/><circle cx="999.1" cy="2677.1" r="5.7"/><circle cx="1019.5" cy="2686.0" r="5.7"/><circle cx="1040.3" cy="2692.2" r="5.7"/><circle cx="1061.9" cy="2696.3" r="5.7"/><circle cx="1083.8" cy="2698.9" r="5.7"/><circle cx="1105.8" cy="2700.5" r="5.7"/><circle cx="1127.8" cy="2701.3" r="5.7"/><circle cx="1149.8" cy="2701.8" r="5.7"/><circle cx="1171.8" cy="2702.1" r="5.7"/><circle cx="1193.7" cy="2702.3" r="5.7"/><circle cx="1215.7" cy="2702.3" r="5.7"/><circle cx="1237.7" cy="2702.4" r="5.7"/><circle cx="1259.7" cy="2702.4" r="5.7"/><circle cx="1281.6" cy="2702.4" r="5.7"/><circle cx="1303.6" cy="2702.4" r="5.7"/><circle cx="1325.6" cy="2702.4" r="5.7"/><circle cx="1348.0" cy="2702.4" r="5.7"/><circle cx="1369.9" cy="2702.4" r="5.7"/><circle cx="1391.9" cy="2702.4" r="5.7"/><circle cx="1413.9" cy="2702.4" r="5.7"/><circle cx="1435.9" cy="2702.4" r="5.7"/><circle cx="1457.8" cy="2702.4" r="5.7"/><circle cx="1479.8" cy="2702.4" r="5.7"/><circle cx="1501.8" cy="2702.4" r="5.7"/><circle cx="1523.8" cy="2702.4" r="5.7"/><circle cx="1545.7" cy="2702.4" r="5.7"/><circle cx="1567.7" cy="2702.4" r="5.7"/><circle cx="1589.7" cy="2702.4" r="5.7"/><circle cx="1611.7" cy="2702.4" r="5.7"/><circle cx="1633.6" cy="2702.4" r="5.7"/><circle cx="1655.6" cy="2702.4" r="5.7"/><circle cx="1677.6" cy="2702.4" r="5.7"/><circle cx="1699.6" cy="2702.4" r="5.7"/><circle cx="1721.9" cy="2702.4" r="5.7"/><circle cx="1743.9" cy="2702.4" r="5.7"/><circle cx="1765.9" cy="2702.4" r="5.7"/><circle cx="1787.9" cy="2702.4" r="5.7"/><circle cx="1809.9" cy="2702.4" r="5.7"/><circle cx="1831.8" cy="2702.4" r="5.7"/><circle cx="1853.8" cy="2702.4" r="5.7"/><circle cx="1875.8" cy="2702.4" r="5.7"/><circle cx="296.3" cy="2678.2" r="5.7"/><circle cx="317.9" cy="2673.4" r="5.7"/><circle cx="339.5" cy="2667.9" r="5.7"/><circle cx="360.2" cy="2661.7" r="5.7"/><circle cx="381.4" cy="2654.6" r="5.7"/><circle cx="401.8" cy="2646.9" r="5.7"/><circle cx="422.2" cy="2638.3" r="5.7"/><circle cx="442.2" cy="2628.9" r="5.7"/><circle cx="461.7" cy="2618.7" r="5.7"/><circle cx="480.5" cy="2608.1" r="5.7"/><circle cx="499.3" cy="2596.5" r="5.7"/><circle cx="517.7" cy="2584.3" r="5.7"/><circle cx="535.6" cy="2571.5" r="5.7"/><circle cx="553.2" cy="2558.2" r="5.7"/><circle cx="570.4" cy="2544.5" r="5.7"/><circle cx="587.2" cy="2530.5" r="5.7"/><circle cx="604.0" cy="2515.8" r="5.7"/><circle cx="620.0" cy="2501.3" r="5.7"/><circle cx="636.3" cy="2485.9" r="5.7"/><circle cx="651.9" cy="2470.9" r="5.7"/><circle cx="667.9" cy="2455.3" r="5.7"/><circle cx="683.5" cy="2439.7" r="5.7"/><circle cx="698.7" cy="2424.4" r="5.7"/><circle cx="714.3" cy="2408.7" r="5.7"/><circle cx="729.8" cy="2392.9" r="5.7"/><circle cx="745.4" cy="2377.3" r="5.7"/><circle cx="761.0" cy="2361.8" r="5.7"/><circle cx="776.6" cy="2346.7" r="5.7"/><circle cx="792.6" cy="2331.6" r="5.7"/><circle cx="808.9" cy="2316.7" r="5.7"/><circle cx="825.7" cy="2302.2" r="5.7"/><circle cx="842.5" cy="2288.6" r="5.7"/><circle cx="860.1" cy="2275.3" r="5.7"/><circle cx="878.5" cy="2262.8" r="5.7"/><circle cx="897.3" cy="2251.5" r="5.7"/><circle cx="916.8" cy="2241.5" r="5.7"/><circle cx="937.2" cy="2233.2" r="5.7"/><circle cx="958.4" cy="2227.0" r="5.7"/><circle cx="980.0" cy="2223.2" r="5.7"/><circle cx="1001.9" cy="2222.1" r="5.7"/><circle cx="1023.9" cy="2223.9" r="5.7"/><circle cx="1045.5" cy="2228.5" r="5.7"/><circle cx="1066.3" cy="2235.4" r="5.7"/><circle cx="1086.2" cy="2244.4" r="5.7"/><circle cx="1105.4" cy="2255.0" r="5.7"/><circle cx="1124.2" cy="2267.0" r="5.7"/><circle cx="1141.8" cy="2279.7" r="5.7"/><circle cx="1159.0" cy="2293.4" r="5.7"/><circle cx="1175.7" cy="2307.7" r="5.7"/><circle cx="1192.1" cy="2322.5" r="5.7"/><circle cx="1208.1" cy="2337.5" r="5.7"/><circle cx="1224.1" cy="2353.2" r="5.7"/><circle cx="1239.7" cy="2368.8" r="5.7"/><circle cx="1254.9" cy="2384.3" r="5.7"/><circle cx="1270.0" cy="2399.9" r="5.7"/><circle cx="1285.6" cy="2416.0" r="5.7"/><circle cx="1300.8" cy="2431.7" r="5.7"/><circle cx="1316.0" cy="2447.3" r="5.7"/><circle cx="1331.6" cy="2463.1" r="5.7"/><circle cx="1347.2" cy="2478.6" r="5.7"/><circle cx="1363.1" cy="2494.1" r="5.7"/><circle cx="1379.1" cy="2509.2" r="5.7"/><circle cx="1395.1" cy="2523.7" r="5.7"/><circle cx="1411.9" cy="2538.4" r="5.7"/><circle cx="1428.7" cy="2552.4" r="5.7"/><circle cx="1445.9" cy="2566.0" r="5.7"/><circle cx="1463.4" cy="2579.1" r="5.7"/><circle cx="1481.8" cy="2591.9" r="5.7"/><circle cx="1500.2" cy="2603.9" r="5.7"/><circle cx="1519.0" cy="2615.1" r="5.7"/><circle cx="1538.2" cy="2625.6" r="5.7"/><circle cx="1558.1" cy="2635.5" r="5.7"/><circle cx="1578.1" cy="2644.5" r="5.7"/><circle cx="1598.5" cy="2652.6" r="5.7"/><circle cx="1619.3" cy="2660.0" r="5.7"/><circle cx="1640.0" cy="2666.5" r="5.7"/><circle cx="1661.2" cy="2672.2" r="5.7"/><circle cx="1682.8" cy="2677.3" r="5.7"/><circle cx="1704.4" cy="2681.6" r="5.7"/><circle cx="1725.9" cy="2685.3" r="5.7"/><circle cx="1747.9" cy="2688.5" r="5.7"/><circle cx="1769.5" cy="2691.1" r="5.7"/><circle cx="1791.5" cy="2693.3" r="5.7"/><circle cx="1813.4" cy="2695.1" r="5.7"/><circle cx="1835.4" cy="2696.6" r="5.7"/><circle cx="1857.4" cy="2697.8" r="5.7"/><circle cx="1879.4" cy="2698.8" r="5.7"/></g>
</g>
<g stroke="#1c1c1c" stroke-width="3.8" fill="none" stroke-linecap="butt">
<rect x="275.0" y="1541.5" width="1598.2" height="1181.0"/>
<path d="M275.0 2722.5v24M381.6 2722.5v11M488.1 2722.5v11M594.6 2722.5v11M701.2 2722.5v24M807.8 2722.5v11M914.3 2722.5v11M1020.8 2722.5v11M1127.4 2722.5v24M1233.9 2722.5v11M1340.5 2722.5v11M1447.0 2722.5v11M1553.6 2722.5v24M1660.1 2722.5v11M1766.7 2722.5v11M1873.2 2722.5v11M275.0 2702.4h-24M275.0 2596.8h-11M275.0 2491.3h-24M275.0 2385.7h-11M275.0 2280.2h-24M275.0 2174.6h-11M275.0 2069.0h-24M275.0 1963.5h-11M275.0 1857.9h-24M275.0 1752.4h-11M275.0 1646.8h-24M275.0 1541.2h-11"/>
</g>
<g font-family='"Liberation Sans", Arial, Helvetica, sans-serif' font-size="75" fill="#161616" stroke="#161616" stroke-width="0.9" stroke-linejoin="round">
<text x="275.0" y="2821.5" text-anchor="middle">0</text>
<text x="701.2" y="2821.5" text-anchor="middle">20</text>
<text x="1127.4" y="2821.5" text-anchor="middle">40</text>
<text x="1553.6" y="2821.5" text-anchor="middle">60</text>
<text x="234.0" y="2724.9" text-anchor="end">0.0</text>
<text x="234.0" y="2513.8" text-anchor="end">0.2</text>
<text x="234.0" y="2302.7" text-anchor="end">0.4</text>
<text x="234.0" y="2091.5" text-anchor="end">0.6</text>
<text x="234.0" y="1880.4" text-anchor="end">0.8</text>
<text x="234.0" y="1669.3" text-anchor="end">1.0</text>
<text x="1074.1" y="2940.0" text-anchor="middle">Diameter (nm)</text>
<text transform="translate(101.0 2132.0) rotate(-90)" text-anchor="middle">Counts (n.u.)</text>
</g>
<rect x="273.1" y="1543.4" width="78.39999999999998" height="121.09999999999991" fill="#ff0000"/>
<text x="314" y="1637" text-anchor="middle" font-family='"Liberation Sans", Arial, Helvetica, sans-serif' font-weight="bold" font-size="115" fill="#fff">b</text>
<text x="393.7" y="1614" font-family='"Liberation Sans", Arial, Helvetica, sans-serif' font-weight="bold" font-size="62" fill="#0000f0">12 nm</text>
<text x="722.8" y="1614" font-family='"Liberation Sans", Arial, Helvetica, sans-serif' font-weight="bold" font-size="62" fill="#ff0000">18 nm</text>
<text x="1032.4" y="2146" font-family='"Liberation Sans", Arial, Helvetica, sans-serif' font-weight="bold" font-size="62" fill="#ff0000">34 nm</text>
<text y="2225" font-family='"Liberation Sans", Arial, Helvetica, sans-serif' font-weight="bold" font-size="66" fill="#000"><tspan x="1335">150 </tspan><tspan x="1461.5" font-family='"Liberation Serif", "DejaVu Serif", serif' font-weight="normal" font-size="70">μ</tspan><tspan x="1499.5">J/pulse</tspan></text>
<rect x="1025" y="1560.5" width="166" height="83" fill="#0000ff" fill-opacity="0.3"/>
<rect x="1025" y="1560.5" width="166" height="83" fill="url(#hbb)" stroke="#8080e0" stroke-width="1"/>
<rect x="1025" y="1653" width="166" height="82" fill="#ff0000" fill-opacity="0.3"/>
<rect x="1025" y="1653" width="166" height="82" fill="url(#hrb)" stroke="#e08080" stroke-width="1"/>
<text x="1211" y="1628" font-family='"Liberation Sans", Arial, Helvetica, sans-serif' font-weight="bold" font-size="72.6" fill="#0000f0">AuSi NHs: 30 mg/L</text>
<text y="1719.5" font-family='"Liberation Sans", Arial, Helvetica, sans-serif' font-weight="bold" font-size="72.6" fill="#ff0000" xml:space="preserve"><tspan x="1211">Au NPs: </tspan><tspan x="1613">0 mg/L</tspan></text>
</g>
</svg></body></html>
